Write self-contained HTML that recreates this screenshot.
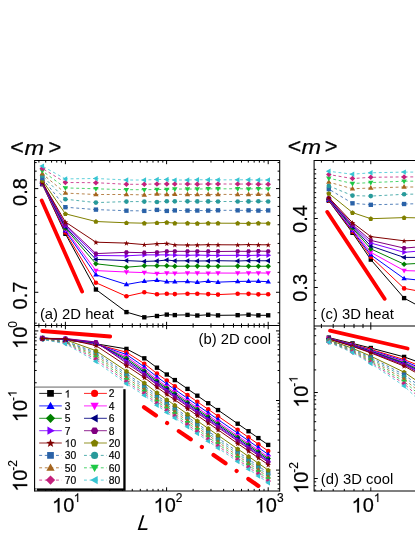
<!DOCTYPE html>
<html><head><meta charset="utf-8"><title>m vs L</title>
<style>
html,body{margin:0;padding:0;background:#fff;}
body{width:415px;height:537px;overflow:hidden;font-family:"Liberation Sans",sans-serif;}
svg{display:block;will-change:transform;}
</style></head><body>
<svg width="415" height="537" viewBox="0 0 415 537" font-family="'Liberation Sans', sans-serif">
<rect width="415" height="537" fill="#fff"/>
<defs>
<clipPath id="ca"><rect x="34.6" y="160.5" width="245.1" height="165.0"/></clipPath>
<clipPath id="cb"><rect x="34.6" y="325.5" width="245.1" height="165.5"/></clipPath>
<clipPath id="cc"><rect x="314.1" y="160.5" width="105.9" height="165.0"/></clipPath>
<clipPath id="cd"><rect x="314.1" y="325.5" width="105.9" height="165.5"/></clipPath>
</defs>
<g clip-path="url(#ca)">
<path d="M42.30 184.20 L65.40 233.80 L95.92 289.50 L126.45 312.10 L144.30 317.30 L156.97 316.00 L166.80 314.60 L174.83 315.09 L187.50 314.88 L197.32 315.48 L208.20 314.79 L218.02 315.34 L237.68 315.14 L248.55 314.77 L258.37 315.31 L268.20 315.30" fill="none" stroke="#000000" stroke-width="1.00"/>
<rect x="40.13" y="182.03" width="4.35" height="4.35" fill="#000000"/>
<rect x="63.23" y="231.63" width="4.35" height="4.35" fill="#000000"/>
<rect x="93.75" y="287.33" width="4.35" height="4.35" fill="#000000"/>
<rect x="124.28" y="309.93" width="4.35" height="4.35" fill="#000000"/>
<rect x="142.13" y="315.13" width="4.35" height="4.35" fill="#000000"/>
<rect x="154.80" y="313.83" width="4.35" height="4.35" fill="#000000"/>
<rect x="164.63" y="312.43" width="4.35" height="4.35" fill="#000000"/>
<rect x="172.66" y="312.92" width="4.35" height="4.35" fill="#000000"/>
<rect x="185.33" y="312.71" width="4.35" height="4.35" fill="#000000"/>
<rect x="195.15" y="313.31" width="4.35" height="4.35" fill="#000000"/>
<rect x="206.02" y="312.61" width="4.35" height="4.35" fill="#000000"/>
<rect x="215.85" y="313.17" width="4.35" height="4.35" fill="#000000"/>
<rect x="235.50" y="312.97" width="4.35" height="4.35" fill="#000000"/>
<rect x="246.37" y="312.60" width="4.35" height="4.35" fill="#000000"/>
<rect x="256.20" y="313.14" width="4.35" height="4.35" fill="#000000"/>
<rect x="266.03" y="313.13" width="4.35" height="4.35" fill="#000000"/>
<path d="M42.30 184.00 L65.40 232.50 L95.92 282.70 L126.45 296.30 L144.30 292.30 L156.97 294.20 L166.80 293.80 L174.83 294.12 L187.50 293.68 L197.32 293.71 L208.20 294.11 L218.02 294.59 L237.68 293.75 L248.55 293.87 L258.37 294.35 L268.20 294.20" fill="none" stroke="#ff0000" stroke-width="1.00"/>
<circle cx="42.30" cy="184.00" r="2.29" fill="#ff0000"/>
<circle cx="65.40" cy="232.50" r="2.29" fill="#ff0000"/>
<circle cx="95.92" cy="282.70" r="2.29" fill="#ff0000"/>
<circle cx="126.45" cy="296.30" r="2.29" fill="#ff0000"/>
<circle cx="144.30" cy="292.30" r="2.29" fill="#ff0000"/>
<circle cx="156.97" cy="294.20" r="2.29" fill="#ff0000"/>
<circle cx="166.80" cy="293.80" r="2.29" fill="#ff0000"/>
<circle cx="174.83" cy="294.12" r="2.29" fill="#ff0000"/>
<circle cx="187.50" cy="293.68" r="2.29" fill="#ff0000"/>
<circle cx="197.32" cy="293.71" r="2.29" fill="#ff0000"/>
<circle cx="208.20" cy="294.11" r="2.29" fill="#ff0000"/>
<circle cx="218.02" cy="294.59" r="2.29" fill="#ff0000"/>
<circle cx="237.68" cy="293.75" r="2.29" fill="#ff0000"/>
<circle cx="248.55" cy="293.87" r="2.29" fill="#ff0000"/>
<circle cx="258.37" cy="294.35" r="2.29" fill="#ff0000"/>
<circle cx="268.20" cy="294.20" r="2.29" fill="#ff0000"/>
<path d="M42.30 183.80 L65.40 230.80 L95.92 274.80 L126.45 284.50 L144.30 281.30 L156.97 280.30 L166.80 281.70 L174.83 281.79 L187.50 281.58 L197.32 282.27 L208.20 281.16 L218.02 282.13 L237.68 281.45 L248.55 281.27 L258.37 281.24 L268.20 281.70" fill="none" stroke="#0000ff" stroke-width="1.00"/>
<polygon points="42.30,180.83 44.99,185.57 39.61,185.57" fill="#0000ff"/>
<polygon points="65.40,227.83 68.09,232.57 62.71,232.57" fill="#0000ff"/>
<polygon points="95.92,271.83 98.61,276.57 93.24,276.57" fill="#0000ff"/>
<polygon points="126.45,281.53 129.13,286.27 123.76,286.27" fill="#0000ff"/>
<polygon points="144.30,278.33 146.99,283.07 141.62,283.07" fill="#0000ff"/>
<polygon points="156.97,277.33 159.66,282.07 154.29,282.07" fill="#0000ff"/>
<polygon points="166.80,278.73 169.49,283.47 164.11,283.47" fill="#0000ff"/>
<polygon points="174.83,278.82 177.51,283.56 172.14,283.56" fill="#0000ff"/>
<polygon points="187.50,278.61 190.18,283.35 184.81,283.35" fill="#0000ff"/>
<polygon points="197.32,279.30 200.01,284.04 194.64,284.04" fill="#0000ff"/>
<polygon points="208.20,278.19 210.88,282.93 205.51,282.93" fill="#0000ff"/>
<polygon points="218.02,279.16 220.71,283.90 215.34,283.90" fill="#0000ff"/>
<polygon points="237.68,278.48 240.36,283.22 234.99,283.22" fill="#0000ff"/>
<polygon points="248.55,278.30 251.23,283.04 245.86,283.04" fill="#0000ff"/>
<polygon points="258.37,278.27 261.06,283.01 255.69,283.01" fill="#0000ff"/>
<polygon points="268.20,278.73 270.89,283.47 265.51,283.47" fill="#0000ff"/>
<path d="M42.30 183.50 L65.40 229.50 L95.92 270.60 L126.45 272.00 L144.30 272.60 L156.97 273.60 L166.80 273.00 L174.83 273.24 L187.50 272.96 L197.32 273.14 L208.20 273.16 L218.02 273.04 L237.68 273.12 L248.55 272.91 L258.37 272.91 L268.20 273.10" fill="none" stroke="#ff00ff" stroke-width="1.00"/>
<polygon points="42.30,186.47 44.99,181.73 39.61,181.73" fill="#ff00ff"/>
<polygon points="65.40,232.47 68.09,227.73 62.71,227.73" fill="#ff00ff"/>
<polygon points="95.92,273.57 98.61,268.83 93.24,268.83" fill="#ff00ff"/>
<polygon points="126.45,274.97 129.13,270.23 123.76,270.23" fill="#ff00ff"/>
<polygon points="144.30,275.57 146.99,270.83 141.62,270.83" fill="#ff00ff"/>
<polygon points="156.97,276.57 159.66,271.83 154.29,271.83" fill="#ff00ff"/>
<polygon points="166.80,275.97 169.49,271.23 164.11,271.23" fill="#ff00ff"/>
<polygon points="174.83,276.21 177.51,271.47 172.14,271.47" fill="#ff00ff"/>
<polygon points="187.50,275.93 190.18,271.19 184.81,271.19" fill="#ff00ff"/>
<polygon points="197.32,276.11 200.01,271.37 194.64,271.37" fill="#ff00ff"/>
<polygon points="208.20,276.13 210.88,271.39 205.51,271.39" fill="#ff00ff"/>
<polygon points="218.02,276.01 220.71,271.27 215.34,271.27" fill="#ff00ff"/>
<polygon points="237.68,276.09 240.36,271.35 234.99,271.35" fill="#ff00ff"/>
<polygon points="248.55,275.88 251.23,271.14 245.86,271.14" fill="#ff00ff"/>
<polygon points="258.37,275.88 261.06,271.14 255.69,271.14" fill="#ff00ff"/>
<polygon points="268.20,276.07 270.89,271.33 265.51,271.33" fill="#ff00ff"/>
<path d="M42.30 183.20 L65.40 228.20 L95.92 263.80 L126.45 267.20 L144.30 265.80 L156.97 265.80 L166.80 265.80 L174.83 266.28 L187.50 266.17 L197.32 266.12 L208.20 266.24 L218.02 266.18 L237.68 266.11 L248.55 266.33 L258.37 266.29 L268.20 266.20" fill="none" stroke="#008000" stroke-width="1.00"/>
<polygon points="42.30,180.44 45.06,183.20 42.30,185.96 39.53,183.20" fill="#008000"/>
<polygon points="65.40,225.44 68.17,228.20 65.40,230.96 62.64,228.20" fill="#008000"/>
<polygon points="95.92,261.04 98.69,263.80 95.92,266.56 93.16,263.80" fill="#008000"/>
<polygon points="126.45,264.44 129.21,267.20 126.45,269.96 123.68,267.20" fill="#008000"/>
<polygon points="144.30,263.04 147.07,265.80 144.30,268.56 141.54,265.80" fill="#008000"/>
<polygon points="156.97,263.04 159.74,265.80 156.97,268.56 154.21,265.80" fill="#008000"/>
<polygon points="166.80,263.04 169.56,265.80 166.80,268.56 164.04,265.80" fill="#008000"/>
<polygon points="174.83,263.51 177.59,266.28 174.83,269.04 172.06,266.28" fill="#008000"/>
<polygon points="187.50,263.40 190.26,266.17 187.50,268.93 184.73,266.17" fill="#008000"/>
<polygon points="197.32,263.35 200.09,266.12 197.32,268.88 194.56,266.12" fill="#008000"/>
<polygon points="208.20,263.47 210.96,266.24 208.20,269.00 205.43,266.24" fill="#008000"/>
<polygon points="218.02,263.41 220.79,266.18 218.02,268.94 215.26,266.18" fill="#008000"/>
<polygon points="237.68,263.35 240.44,266.11 237.68,268.88 234.91,266.11" fill="#008000"/>
<polygon points="248.55,263.56 251.31,266.33 248.55,269.09 245.78,266.33" fill="#008000"/>
<polygon points="258.37,263.52 261.14,266.29 258.37,269.05 255.61,266.29" fill="#008000"/>
<polygon points="268.20,263.44 270.97,266.20 268.20,268.96 265.44,266.20" fill="#008000"/>
<path d="M42.30 182.90 L65.40 227.00 L95.92 259.40 L126.45 260.60 L144.30 261.40 L156.97 261.00 L166.80 260.00 L174.83 260.83 L187.50 260.81 L197.32 260.97 L208.20 260.90 L218.02 260.71 L237.68 261.01 L248.55 260.63 L258.37 260.76 L268.20 260.80" fill="none" stroke="#000080" stroke-width="1.00"/>
<polygon points="39.33,182.90 44.07,180.21 44.07,185.59" fill="#000080"/>
<polygon points="62.43,227.00 67.17,224.31 67.17,229.69" fill="#000080"/>
<polygon points="92.95,259.40 97.69,256.71 97.69,262.09" fill="#000080"/>
<polygon points="123.48,260.60 128.22,257.91 128.22,263.29" fill="#000080"/>
<polygon points="141.33,261.40 146.07,258.71 146.07,264.09" fill="#000080"/>
<polygon points="154.00,261.00 158.74,258.31 158.74,263.69" fill="#000080"/>
<polygon points="163.83,260.00 168.57,257.31 168.57,262.69" fill="#000080"/>
<polygon points="171.86,260.83 176.60,258.15 176.60,263.52" fill="#000080"/>
<polygon points="184.53,260.81 189.27,258.13 189.27,263.50" fill="#000080"/>
<polygon points="194.35,260.97 199.09,258.28 199.09,263.65" fill="#000080"/>
<polygon points="205.23,260.90 209.97,258.21 209.97,263.59" fill="#000080"/>
<polygon points="215.05,260.71 219.79,258.02 219.79,263.39" fill="#000080"/>
<polygon points="234.71,261.01 239.45,258.33 239.45,263.70" fill="#000080"/>
<polygon points="245.58,260.63 250.32,257.95 250.32,263.32" fill="#000080"/>
<polygon points="255.40,260.76 260.14,258.08 260.14,263.45" fill="#000080"/>
<polygon points="265.23,260.80 269.97,258.11 269.97,263.49" fill="#000080"/>
<path d="M42.30 182.50 L65.40 225.80 L95.92 255.50 L126.45 255.80 L144.30 254.90 L156.97 254.90 L166.80 254.90 L174.83 255.15 L187.50 255.30 L197.32 255.10 L208.20 255.37 L218.02 255.42 L237.68 255.33 L248.55 255.47 L258.37 255.22 L268.20 255.30" fill="none" stroke="#8000ff" stroke-width="1.00"/>
<polygon points="45.27,182.50 40.53,179.81 40.53,185.19" fill="#8000ff"/>
<polygon points="68.37,225.80 63.63,223.11 63.63,228.49" fill="#8000ff"/>
<polygon points="98.89,255.50 94.15,252.81 94.15,258.19" fill="#8000ff"/>
<polygon points="129.42,255.80 124.68,253.11 124.68,258.49" fill="#8000ff"/>
<polygon points="147.27,254.90 142.53,252.21 142.53,257.59" fill="#8000ff"/>
<polygon points="159.94,254.90 155.20,252.21 155.20,257.59" fill="#8000ff"/>
<polygon points="169.77,254.90 165.03,252.21 165.03,257.59" fill="#8000ff"/>
<polygon points="177.80,255.15 173.06,252.46 173.06,257.83" fill="#8000ff"/>
<polygon points="190.47,255.30 185.73,252.61 185.73,257.98" fill="#8000ff"/>
<polygon points="200.29,255.10 195.55,252.41 195.55,257.78" fill="#8000ff"/>
<polygon points="211.17,255.37 206.43,252.69 206.43,258.06" fill="#8000ff"/>
<polygon points="220.99,255.42 216.25,252.73 216.25,258.10" fill="#8000ff"/>
<polygon points="240.65,255.33 235.91,252.65 235.91,258.02" fill="#8000ff"/>
<polygon points="251.52,255.47 246.78,252.78 246.78,258.15" fill="#8000ff"/>
<polygon points="261.34,255.22 256.60,252.53 256.60,257.90" fill="#8000ff"/>
<polygon points="271.17,255.30 266.43,252.61 266.43,257.99" fill="#8000ff"/>
<path d="M42.30 182.20 L65.40 224.50 L95.92 253.60 L126.45 252.30 L144.30 252.70 L156.97 252.30 L166.80 251.40 L174.83 251.34 L187.50 251.34 L197.32 251.28 L208.20 251.45 L218.02 251.50 L237.68 251.29 L248.55 251.37 L258.37 251.11 L268.20 251.30" fill="none" stroke="#800080" stroke-width="1.00"/>
<polygon points="44.75,182.20 43.52,184.32 41.08,184.32 39.85,182.20 41.08,180.08 43.52,180.08" fill="#800080"/>
<polygon points="67.85,224.50 66.62,226.62 64.18,226.62 62.95,224.50 64.18,222.38 66.62,222.38" fill="#800080"/>
<polygon points="98.37,253.60 97.15,255.72 94.70,255.72 93.48,253.60 94.70,251.48 97.15,251.48" fill="#800080"/>
<polygon points="128.90,252.30 127.67,254.42 125.22,254.42 124.00,252.30 125.22,250.18 127.67,250.18" fill="#800080"/>
<polygon points="146.75,252.70 145.53,254.82 143.08,254.82 141.86,252.70 143.08,250.58 145.53,250.58" fill="#800080"/>
<polygon points="159.42,252.30 158.20,254.42 155.75,254.42 154.52,252.30 155.75,250.18 158.20,250.18" fill="#800080"/>
<polygon points="169.25,251.40 168.02,253.52 165.58,253.52 164.35,251.40 165.58,249.28 168.02,249.28" fill="#800080"/>
<polygon points="177.28,251.34 176.05,253.46 173.60,253.46 172.38,251.34 173.60,249.22 176.05,249.22" fill="#800080"/>
<polygon points="189.95,251.34 188.72,253.46 186.27,253.46 185.05,251.34 186.27,249.21 188.72,249.21" fill="#800080"/>
<polygon points="199.77,251.28 198.55,253.40 196.10,253.40 194.88,251.28 196.10,249.16 198.55,249.16" fill="#800080"/>
<polygon points="210.64,251.45 209.42,253.57 206.97,253.57 205.75,251.45 206.97,249.33 209.42,249.33" fill="#800080"/>
<polygon points="220.47,251.50 219.25,253.62 216.80,253.62 215.57,251.50 216.80,249.37 219.25,249.37" fill="#800080"/>
<polygon points="240.12,251.29 238.90,253.41 236.45,253.41 235.23,251.29 236.45,249.17 238.90,249.17" fill="#800080"/>
<polygon points="251.00,251.37 249.77,253.49 247.32,253.49 246.10,251.37 247.32,249.25 249.77,249.25" fill="#800080"/>
<polygon points="260.82,251.11 259.60,253.23 257.15,253.23 255.92,251.11 257.15,248.99 259.60,248.99" fill="#800080"/>
<polygon points="270.65,251.30 269.42,253.42 266.98,253.42 265.75,251.30 266.98,249.18 269.42,249.18" fill="#800080"/>
<path d="M42.30 182.30 L65.40 222.00 L95.92 242.20 L126.45 243.10 L144.30 244.60 L156.97 243.70 L166.80 243.40 L174.83 244.86 L187.50 245.02 L197.32 244.94 L208.20 244.71 L218.02 244.75 L237.68 244.87 L248.55 244.59 L258.37 244.78 L268.20 244.80" fill="none" stroke="#800000" stroke-width="1.00"/>
<polygon points="42.30,179.64 43.00,181.64 45.12,181.68 43.43,182.97 44.04,185.00 42.30,183.79 40.56,185.00 41.17,182.97 39.48,181.68 41.60,181.64" fill="#800000"/>
<polygon points="65.40,219.34 66.10,221.34 68.22,221.38 66.53,222.67 67.14,224.70 65.40,223.49 63.66,224.70 64.27,222.67 62.58,221.38 64.70,221.34" fill="#800000"/>
<polygon points="95.92,239.54 96.62,241.54 98.74,241.58 97.05,242.87 97.67,244.90 95.92,243.69 94.18,244.90 94.80,242.87 93.11,241.58 95.23,241.54" fill="#800000"/>
<polygon points="126.45,240.44 127.15,242.44 129.27,242.48 127.58,243.77 128.19,245.80 126.45,244.59 124.71,245.80 125.32,243.77 123.63,242.48 125.75,242.44" fill="#800000"/>
<polygon points="144.30,241.94 145.00,243.94 147.12,243.98 145.43,245.27 146.05,247.30 144.30,246.09 142.56,247.30 143.18,245.27 141.49,243.98 143.61,243.94" fill="#800000"/>
<polygon points="156.97,241.04 157.67,243.04 159.79,243.08 158.10,244.37 158.71,246.40 156.97,245.19 155.23,246.40 155.85,244.37 154.16,243.08 156.28,243.04" fill="#800000"/>
<polygon points="166.80,240.74 167.50,242.74 169.62,242.78 167.93,244.07 168.54,246.10 166.80,244.89 165.06,246.10 165.67,244.07 163.98,242.78 166.10,242.74" fill="#800000"/>
<polygon points="174.83,242.20 175.53,244.21 177.65,244.25 175.96,245.53 176.57,247.56 174.83,246.35 173.09,247.56 173.70,245.53 172.01,244.25 174.13,244.21" fill="#800000"/>
<polygon points="187.50,242.35 188.19,244.36 190.32,244.40 188.62,245.68 189.24,247.71 187.50,246.50 185.76,247.71 186.37,245.68 184.68,244.40 186.80,244.36" fill="#800000"/>
<polygon points="197.32,242.28 198.02,244.28 200.14,244.33 198.45,245.61 199.07,247.64 197.32,246.43 195.58,247.64 196.20,245.61 194.51,244.33 196.63,244.28" fill="#800000"/>
<polygon points="208.20,242.04 208.89,244.05 211.01,244.09 209.32,245.37 209.94,247.40 208.20,246.19 206.45,247.40 207.07,245.37 205.38,244.09 207.50,244.05" fill="#800000"/>
<polygon points="218.02,242.09 218.72,244.09 220.84,244.13 219.15,245.42 219.76,247.45 218.02,246.23 216.28,247.45 216.90,245.42 215.20,244.13 217.33,244.09" fill="#800000"/>
<polygon points="237.68,242.21 238.37,244.22 240.49,244.26 238.80,245.54 239.42,247.57 237.68,246.36 235.93,247.57 236.55,245.54 234.86,244.26 236.98,244.22" fill="#800000"/>
<polygon points="248.55,241.93 249.24,243.93 251.36,243.97 249.67,245.26 250.29,247.29 248.55,246.07 246.81,247.29 247.42,245.26 245.73,243.97 247.85,243.93" fill="#800000"/>
<polygon points="258.37,242.12 259.07,244.12 261.19,244.17 259.50,245.45 260.11,247.48 258.37,246.27 256.63,247.48 257.25,245.45 255.56,244.17 257.68,244.12" fill="#800000"/>
<polygon points="268.20,242.14 268.90,244.14 271.02,244.18 269.33,245.47 269.94,247.50 268.20,246.29 266.46,247.50 267.07,245.47 265.38,244.18 267.50,244.14" fill="#800000"/>
<path d="M42.30 180.40 L65.40 213.80 L95.92 221.50 L126.45 222.80 L144.30 223.20 L156.97 222.80 L166.80 222.40 L174.83 223.13 L187.50 223.11 L197.32 223.42 L208.20 223.14 L218.02 223.19 L237.68 223.25 L248.55 223.46 L258.37 223.12 L268.20 223.30" fill="none" stroke="#808000" stroke-width="1.00"/>
<polygon points="42.30,177.99 44.78,179.79 43.83,182.71 40.77,182.71 39.82,179.79" fill="#808000"/>
<polygon points="65.40,211.39 67.88,213.19 66.93,216.11 63.87,216.11 62.92,213.19" fill="#808000"/>
<polygon points="95.92,219.09 98.40,220.89 97.46,223.81 94.39,223.81 93.45,220.89" fill="#808000"/>
<polygon points="126.45,220.39 128.93,222.19 127.98,225.11 124.92,225.11 123.97,222.19" fill="#808000"/>
<polygon points="144.30,220.79 146.78,222.59 145.84,225.51 142.77,225.51 141.83,222.59" fill="#808000"/>
<polygon points="156.97,220.39 159.45,222.19 158.51,225.11 155.44,225.11 154.49,222.19" fill="#808000"/>
<polygon points="166.80,219.99 169.28,221.79 168.33,224.71 165.27,224.71 164.32,221.79" fill="#808000"/>
<polygon points="174.83,220.72 177.31,222.53 176.36,225.44 173.30,225.44 172.35,222.53" fill="#808000"/>
<polygon points="187.50,220.70 189.98,222.50 189.03,225.42 185.97,225.42 185.02,222.50" fill="#808000"/>
<polygon points="197.32,221.01 199.80,222.81 198.86,225.73 195.79,225.73 194.85,222.81" fill="#808000"/>
<polygon points="208.20,220.73 210.67,222.53 209.73,225.45 206.66,225.45 205.72,222.53" fill="#808000"/>
<polygon points="218.02,220.78 220.50,222.58 219.55,225.50 216.49,225.50 215.54,222.58" fill="#808000"/>
<polygon points="237.68,220.85 240.15,222.65 239.21,225.56 236.14,225.56 235.20,222.65" fill="#808000"/>
<polygon points="248.55,221.06 251.03,222.86 250.08,225.77 247.01,225.77 246.07,222.86" fill="#808000"/>
<polygon points="258.37,220.71 260.85,222.51 259.91,225.42 256.84,225.42 255.89,222.51" fill="#808000"/>
<polygon points="268.20,220.89 270.68,222.69 269.73,225.61 266.67,225.61 265.72,222.69" fill="#808000"/>
<path d="M65.40 207.20 L42.30 178.20M95.92 209.60 L65.40 207.20M126.45 210.70 L95.92 209.60M144.30 210.90 L126.45 210.70M156.97 209.90 L144.30 210.90M166.80 210.90 L156.97 209.90M174.83 210.42 L166.80 210.90M187.50 210.57 L174.83 210.42M197.32 210.54 L187.50 210.57M208.20 210.56 L197.32 210.54M218.02 210.30 L208.20 210.56M237.68 210.36 L218.02 210.30M248.55 210.34 L237.68 210.36M258.37 210.57 L248.55 210.34M268.20 210.40 L258.37 210.57" fill="none" stroke="#2a62a8" stroke-width="0.80" stroke-dasharray="2.9 2.7"/>
<rect x="40.13" y="176.03" width="4.35" height="4.35" fill="#2a62a8"/>
<rect x="63.23" y="205.03" width="4.35" height="4.35" fill="#2a62a8"/>
<rect x="93.75" y="207.43" width="4.35" height="4.35" fill="#2a62a8"/>
<rect x="124.28" y="208.53" width="4.35" height="4.35" fill="#2a62a8"/>
<rect x="142.13" y="208.73" width="4.35" height="4.35" fill="#2a62a8"/>
<rect x="154.80" y="207.73" width="4.35" height="4.35" fill="#2a62a8"/>
<rect x="164.63" y="208.73" width="4.35" height="4.35" fill="#2a62a8"/>
<rect x="172.66" y="208.25" width="4.35" height="4.35" fill="#2a62a8"/>
<rect x="185.33" y="208.40" width="4.35" height="4.35" fill="#2a62a8"/>
<rect x="195.15" y="208.37" width="4.35" height="4.35" fill="#2a62a8"/>
<rect x="206.02" y="208.39" width="4.35" height="4.35" fill="#2a62a8"/>
<rect x="215.85" y="208.13" width="4.35" height="4.35" fill="#2a62a8"/>
<rect x="235.50" y="208.19" width="4.35" height="4.35" fill="#2a62a8"/>
<rect x="246.37" y="208.17" width="4.35" height="4.35" fill="#2a62a8"/>
<rect x="256.20" y="208.40" width="4.35" height="4.35" fill="#2a62a8"/>
<rect x="266.03" y="208.23" width="4.35" height="4.35" fill="#2a62a8"/>
<path d="M65.40 199.20 L42.30 175.70M95.92 202.60 L65.40 199.20M126.45 201.60 L95.92 202.60M144.30 201.60 L126.45 201.60M156.97 202.00 L144.30 201.60M166.80 201.20 L156.97 202.00M174.83 201.35 L166.80 201.20M187.50 201.36 L174.83 201.35M197.32 201.38 L187.50 201.36M208.20 201.38 L197.32 201.38M218.02 201.49 L208.20 201.38M237.68 201.54 L218.02 201.49M248.55 201.40 L237.68 201.54M258.37 201.28 L248.55 201.40M268.20 201.50 L258.37 201.28" fill="none" stroke="#289a9a" stroke-width="0.80" stroke-dasharray="2.9 2.7"/>
<circle cx="42.30" cy="175.70" r="2.29" fill="#289a9a"/>
<circle cx="65.40" cy="199.20" r="2.29" fill="#289a9a"/>
<circle cx="95.92" cy="202.60" r="2.29" fill="#289a9a"/>
<circle cx="126.45" cy="201.60" r="2.29" fill="#289a9a"/>
<circle cx="144.30" cy="201.60" r="2.29" fill="#289a9a"/>
<circle cx="156.97" cy="202.00" r="2.29" fill="#289a9a"/>
<circle cx="166.80" cy="201.20" r="2.29" fill="#289a9a"/>
<circle cx="174.83" cy="201.35" r="2.29" fill="#289a9a"/>
<circle cx="187.50" cy="201.36" r="2.29" fill="#289a9a"/>
<circle cx="197.32" cy="201.38" r="2.29" fill="#289a9a"/>
<circle cx="208.20" cy="201.38" r="2.29" fill="#289a9a"/>
<circle cx="218.02" cy="201.49" r="2.29" fill="#289a9a"/>
<circle cx="237.68" cy="201.54" r="2.29" fill="#289a9a"/>
<circle cx="248.55" cy="201.40" r="2.29" fill="#289a9a"/>
<circle cx="258.37" cy="201.28" r="2.29" fill="#289a9a"/>
<circle cx="268.20" cy="201.50" r="2.29" fill="#289a9a"/>
<path d="M65.40 193.10 L42.30 173.80M95.92 194.50 L65.40 193.10M126.45 194.50 L95.92 194.50M144.30 194.90 L126.45 194.50M156.97 193.90 L144.30 194.90M166.80 194.50 L156.97 193.90M174.83 194.34 L166.80 194.50M187.50 194.43 L174.83 194.34M197.32 194.60 L187.50 194.43M208.20 194.48 L197.32 194.60M218.02 194.41 L208.20 194.48M237.68 194.45 L218.02 194.41M248.55 194.48 L237.68 194.45M258.37 194.20 L248.55 194.48M268.20 194.40 L258.37 194.20" fill="none" stroke="#a5651e" stroke-width="0.80" stroke-dasharray="2.9 2.7"/>
<polygon points="42.30,170.83 44.99,175.57 39.61,175.57" fill="#a5651e"/>
<polygon points="65.40,190.13 68.09,194.87 62.71,194.87" fill="#a5651e"/>
<polygon points="95.92,191.53 98.61,196.27 93.24,196.27" fill="#a5651e"/>
<polygon points="126.45,191.53 129.13,196.27 123.76,196.27" fill="#a5651e"/>
<polygon points="144.30,191.93 146.99,196.67 141.62,196.67" fill="#a5651e"/>
<polygon points="156.97,190.93 159.66,195.67 154.29,195.67" fill="#a5651e"/>
<polygon points="166.80,191.53 169.49,196.27 164.11,196.27" fill="#a5651e"/>
<polygon points="174.83,191.37 177.51,196.11 172.14,196.11" fill="#a5651e"/>
<polygon points="187.50,191.46 190.18,196.20 184.81,196.20" fill="#a5651e"/>
<polygon points="197.32,191.63 200.01,196.37 194.64,196.37" fill="#a5651e"/>
<polygon points="208.20,191.51 210.88,196.25 205.51,196.25" fill="#a5651e"/>
<polygon points="218.02,191.44 220.71,196.18 215.34,196.18" fill="#a5651e"/>
<polygon points="237.68,191.48 240.36,196.22 234.99,196.22" fill="#a5651e"/>
<polygon points="248.55,191.51 251.23,196.25 245.86,196.25" fill="#a5651e"/>
<polygon points="258.37,191.23 261.06,195.97 255.69,195.97" fill="#a5651e"/>
<polygon points="268.20,191.43 270.89,196.17 265.51,196.17" fill="#a5651e"/>
<path d="M65.40 187.90 L42.30 170.90M95.92 188.80 L65.40 187.90M126.45 189.70 L95.92 188.80M144.30 189.70 L126.45 189.70M156.97 189.50 L144.30 189.70M166.80 189.50 L156.97 189.50M174.83 189.02 L166.80 189.50M187.50 189.06 L174.83 189.02M197.32 189.03 L187.50 189.06M208.20 188.85 L197.32 189.03M218.02 188.86 L208.20 188.85M237.68 188.73 L218.02 188.86M248.55 188.96 L237.68 188.73M258.37 188.71 L248.55 188.96M268.20 188.90 L258.37 188.71" fill="none" stroke="#1ec846" stroke-width="0.80" stroke-dasharray="2.9 2.7"/>
<polygon points="42.30,173.87 44.99,169.13 39.61,169.13" fill="#1ec846"/>
<polygon points="65.40,190.87 68.09,186.13 62.71,186.13" fill="#1ec846"/>
<polygon points="95.92,191.77 98.61,187.03 93.24,187.03" fill="#1ec846"/>
<polygon points="126.45,192.67 129.13,187.93 123.76,187.93" fill="#1ec846"/>
<polygon points="144.30,192.67 146.99,187.93 141.62,187.93" fill="#1ec846"/>
<polygon points="156.97,192.47 159.66,187.73 154.29,187.73" fill="#1ec846"/>
<polygon points="166.80,192.47 169.49,187.73 164.11,187.73" fill="#1ec846"/>
<polygon points="174.83,191.99 177.51,187.25 172.14,187.25" fill="#1ec846"/>
<polygon points="187.50,192.03 190.18,187.29 184.81,187.29" fill="#1ec846"/>
<polygon points="197.32,192.00 200.01,187.26 194.64,187.26" fill="#1ec846"/>
<polygon points="208.20,191.82 210.88,187.08 205.51,187.08" fill="#1ec846"/>
<polygon points="218.02,191.83 220.71,187.09 215.34,187.09" fill="#1ec846"/>
<polygon points="237.68,191.70 240.36,186.96 234.99,186.96" fill="#1ec846"/>
<polygon points="248.55,191.93 251.23,187.19 245.86,187.19" fill="#1ec846"/>
<polygon points="258.37,191.68 261.06,186.94 255.69,186.94" fill="#1ec846"/>
<polygon points="268.20,191.87 270.89,187.13 265.51,187.13" fill="#1ec846"/>
<path d="M65.40 182.50 L42.30 168.40M95.92 182.70 L65.40 182.50M126.45 184.30 L95.92 182.70M144.30 184.30 L126.45 184.30M156.97 183.90 L144.30 184.30M166.80 183.90 L156.97 183.90M174.83 184.07 L166.80 183.90M187.50 184.05 L174.83 184.07M197.32 184.13 L187.50 184.05M208.20 184.00 L197.32 184.13M218.02 183.98 L208.20 184.00M237.68 184.05 L218.02 183.98M248.55 184.02 L237.68 184.05M258.37 184.14 L248.55 184.02M268.20 184.20 L258.37 184.14" fill="none" stroke="#c4207c" stroke-width="0.80" stroke-dasharray="2.9 2.7"/>
<polygon points="42.30,165.64 45.06,168.40 42.30,171.16 39.53,168.40" fill="#c4207c"/>
<polygon points="65.40,179.74 68.17,182.50 65.40,185.26 62.64,182.50" fill="#c4207c"/>
<polygon points="95.92,179.94 98.69,182.70 95.92,185.46 93.16,182.70" fill="#c4207c"/>
<polygon points="126.45,181.54 129.21,184.30 126.45,187.06 123.68,184.30" fill="#c4207c"/>
<polygon points="144.30,181.54 147.07,184.30 144.30,187.06 141.54,184.30" fill="#c4207c"/>
<polygon points="156.97,181.14 159.74,183.90 156.97,186.66 154.21,183.90" fill="#c4207c"/>
<polygon points="166.80,181.14 169.56,183.90 166.80,186.66 164.04,183.90" fill="#c4207c"/>
<polygon points="174.83,181.31 177.59,184.07 174.83,186.84 172.06,184.07" fill="#c4207c"/>
<polygon points="187.50,181.29 190.26,184.05 187.50,186.82 184.73,184.05" fill="#c4207c"/>
<polygon points="197.32,181.36 200.09,184.13 197.32,186.89 194.56,184.13" fill="#c4207c"/>
<polygon points="208.20,181.24 210.96,184.00 208.20,186.77 205.43,184.00" fill="#c4207c"/>
<polygon points="218.02,181.22 220.79,183.98 218.02,186.75 215.26,183.98" fill="#c4207c"/>
<polygon points="237.68,181.28 240.44,184.05 237.68,186.81 234.91,184.05" fill="#c4207c"/>
<polygon points="248.55,181.26 251.31,184.02 248.55,186.79 245.78,184.02" fill="#c4207c"/>
<polygon points="258.37,181.37 261.14,184.14 258.37,186.90 255.61,184.14" fill="#c4207c"/>
<polygon points="268.20,181.44 270.97,184.20 268.20,186.96 265.44,184.20" fill="#c4207c"/>
<path d="M65.40 178.90 L42.30 166.10M95.92 178.50 L65.40 178.90M126.45 180.00 L95.92 178.50M144.30 180.00 L126.45 180.00M156.97 179.50 L144.30 180.00M166.80 179.50 L156.97 179.50M174.83 180.06 L166.80 179.50M187.50 179.95 L174.83 180.06M197.32 179.75 L187.50 179.95M208.20 179.79 L197.32 179.75M218.02 179.83 L208.20 179.79M237.68 179.84 L218.02 179.83M248.55 179.73 L237.68 179.84M258.37 180.05 L248.55 179.73M268.20 179.90 L258.37 180.05" fill="none" stroke="#38c4d2" stroke-width="0.80" stroke-dasharray="2.9 2.7"/>
<polygon points="39.33,166.10 44.07,163.41 44.07,168.79" fill="#38c4d2"/>
<polygon points="62.43,178.90 67.17,176.21 67.17,181.59" fill="#38c4d2"/>
<polygon points="92.95,178.50 97.69,175.81 97.69,181.19" fill="#38c4d2"/>
<polygon points="123.48,180.00 128.22,177.31 128.22,182.69" fill="#38c4d2"/>
<polygon points="141.33,180.00 146.07,177.31 146.07,182.69" fill="#38c4d2"/>
<polygon points="154.00,179.50 158.74,176.81 158.74,182.19" fill="#38c4d2"/>
<polygon points="163.83,179.50 168.57,176.81 168.57,182.19" fill="#38c4d2"/>
<polygon points="171.86,180.06 176.60,177.38 176.60,182.75" fill="#38c4d2"/>
<polygon points="184.53,179.95 189.27,177.26 189.27,182.64" fill="#38c4d2"/>
<polygon points="194.35,179.75 199.09,177.06 199.09,182.43" fill="#38c4d2"/>
<polygon points="205.23,179.79 209.97,177.10 209.97,182.48" fill="#38c4d2"/>
<polygon points="215.05,179.83 219.79,177.15 219.79,182.52" fill="#38c4d2"/>
<polygon points="234.71,179.84 239.45,177.15 239.45,182.53" fill="#38c4d2"/>
<polygon points="245.58,179.73 250.32,177.05 250.32,182.42" fill="#38c4d2"/>
<polygon points="255.40,180.05 260.14,177.37 260.14,182.74" fill="#38c4d2"/>
<polygon points="265.23,179.90 269.97,177.21 269.97,182.59" fill="#38c4d2"/>
<line x1="41.7" y1="200.5" x2="82.1" y2="291.6" stroke="#ff0000" stroke-width="3.8" stroke-linecap="round"/>
</g>
<g clip-path="url(#cb)">
<path d="M65.40 341.25 L42.30 338.73M95.92 352.24 L65.40 341.25M126.45 373.83 L95.92 352.24M144.30 385.72 L126.45 373.83M156.97 395.51 L144.30 385.72M166.80 402.50 L156.97 395.51M174.83 408.07 L166.80 402.50M187.50 416.87 L174.83 408.07M197.32 423.69 L187.50 416.87M208.20 431.24 L197.32 423.69M218.02 438.06 L208.20 431.24M237.68 451.71 L218.02 438.06M248.55 459.26 L237.68 451.71M258.37 466.08 L248.55 459.26M268.20 472.90 L258.37 466.08" fill="none" stroke="#2a62a8" stroke-width="0.80" stroke-dasharray="2.9 2.7"/>
<rect x="40.13" y="336.56" width="4.35" height="4.35" fill="#2a62a8"/>
<rect x="63.23" y="339.08" width="4.35" height="4.35" fill="#2a62a8"/>
<rect x="93.75" y="350.06" width="4.35" height="4.35" fill="#2a62a8"/>
<rect x="124.28" y="371.66" width="4.35" height="4.35" fill="#2a62a8"/>
<rect x="142.13" y="383.55" width="4.35" height="4.35" fill="#2a62a8"/>
<rect x="154.80" y="393.34" width="4.35" height="4.35" fill="#2a62a8"/>
<rect x="164.63" y="400.33" width="4.35" height="4.35" fill="#2a62a8"/>
<rect x="172.66" y="405.90" width="4.35" height="4.35" fill="#2a62a8"/>
<rect x="185.33" y="414.70" width="4.35" height="4.35" fill="#2a62a8"/>
<rect x="195.15" y="421.52" width="4.35" height="4.35" fill="#2a62a8"/>
<rect x="206.02" y="429.07" width="4.35" height="4.35" fill="#2a62a8"/>
<rect x="215.85" y="435.89" width="4.35" height="4.35" fill="#2a62a8"/>
<rect x="235.50" y="449.53" width="4.35" height="4.35" fill="#2a62a8"/>
<rect x="246.37" y="457.08" width="4.35" height="4.35" fill="#2a62a8"/>
<rect x="256.20" y="463.91" width="4.35" height="4.35" fill="#2a62a8"/>
<rect x="266.03" y="470.73" width="4.35" height="4.35" fill="#2a62a8"/>
<path d="M65.40 341.59 L42.30 338.84M95.92 353.73 L65.40 341.59M126.45 375.84 L95.92 353.73M144.30 387.68 L126.45 375.84M156.97 397.49 L144.30 387.68M166.80 404.50 L156.97 397.49M174.83 410.07 L166.80 404.50M187.50 418.87 L174.83 410.07M197.32 425.69 L187.50 418.87M208.20 433.24 L197.32 425.69M218.02 440.06 L208.20 433.24M237.68 453.71 L218.02 440.06M248.55 461.26 L237.68 453.71M258.37 468.08 L248.55 461.26M268.20 474.90 L258.37 468.08" fill="none" stroke="#289a9a" stroke-width="0.80" stroke-dasharray="2.9 2.7"/>
<circle cx="42.30" cy="338.84" r="2.29" fill="#289a9a"/>
<circle cx="65.40" cy="341.59" r="2.29" fill="#289a9a"/>
<circle cx="95.92" cy="353.73" r="2.29" fill="#289a9a"/>
<circle cx="126.45" cy="375.84" r="2.29" fill="#289a9a"/>
<circle cx="144.30" cy="387.68" r="2.29" fill="#289a9a"/>
<circle cx="156.97" cy="397.49" r="2.29" fill="#289a9a"/>
<circle cx="166.80" cy="404.50" r="2.29" fill="#289a9a"/>
<circle cx="174.83" cy="410.07" r="2.29" fill="#289a9a"/>
<circle cx="187.50" cy="418.87" r="2.29" fill="#289a9a"/>
<circle cx="197.32" cy="425.69" r="2.29" fill="#289a9a"/>
<circle cx="208.20" cy="433.24" r="2.29" fill="#289a9a"/>
<circle cx="218.02" cy="440.06" r="2.29" fill="#289a9a"/>
<circle cx="237.68" cy="453.71" r="2.29" fill="#289a9a"/>
<circle cx="248.55" cy="461.26" r="2.29" fill="#289a9a"/>
<circle cx="258.37" cy="468.08" r="2.29" fill="#289a9a"/>
<circle cx="268.20" cy="474.90" r="2.29" fill="#289a9a"/>
<path d="M65.40 341.99 L42.30 338.97M95.92 355.39 L65.40 341.99M126.45 377.84 L95.92 355.39M144.30 389.65 L126.45 377.84M156.97 399.47 L144.30 389.65M166.80 406.50 L156.97 399.47M174.83 412.07 L166.80 406.50M187.50 420.87 L174.83 412.07M197.32 427.69 L187.50 420.87M208.20 435.24 L197.32 427.69M218.02 442.06 L208.20 435.24M237.68 455.71 L218.02 442.06M248.55 463.26 L237.68 455.71M258.37 470.08 L248.55 463.26M268.20 476.90 L258.37 470.08" fill="none" stroke="#a5651e" stroke-width="0.80" stroke-dasharray="2.9 2.7"/>
<polygon points="42.30,336.00 44.99,340.74 39.61,340.74" fill="#a5651e"/>
<polygon points="65.40,339.02 68.09,343.76 62.71,343.76" fill="#a5651e"/>
<polygon points="95.92,352.42 98.61,357.16 93.24,357.16" fill="#a5651e"/>
<polygon points="126.45,374.87 129.13,379.61 123.76,379.61" fill="#a5651e"/>
<polygon points="144.30,386.68 146.99,391.42 141.62,391.42" fill="#a5651e"/>
<polygon points="156.97,396.50 159.66,401.24 154.29,401.24" fill="#a5651e"/>
<polygon points="166.80,403.53 169.49,408.27 164.11,408.27" fill="#a5651e"/>
<polygon points="174.83,409.10 177.51,413.84 172.14,413.84" fill="#a5651e"/>
<polygon points="187.50,417.90 190.18,422.64 184.81,422.64" fill="#a5651e"/>
<polygon points="197.32,424.72 200.01,429.46 194.64,429.46" fill="#a5651e"/>
<polygon points="208.20,432.27 210.88,437.01 205.51,437.01" fill="#a5651e"/>
<polygon points="218.02,439.09 220.71,443.83 215.34,443.83" fill="#a5651e"/>
<polygon points="237.68,452.74 240.36,457.48 234.99,457.48" fill="#a5651e"/>
<polygon points="248.55,460.29 251.23,465.03 245.86,465.03" fill="#a5651e"/>
<polygon points="258.37,467.11 261.06,471.85 255.69,471.85" fill="#a5651e"/>
<polygon points="268.20,473.93 270.89,478.67 265.51,478.67" fill="#a5651e"/>
<path d="M65.40 342.47 L42.30 339.12M95.92 357.24 L65.40 342.47M126.45 379.84 L95.92 357.24M144.30 391.60 L126.45 379.84M156.97 401.44 L144.30 391.60M166.80 408.50 L156.97 401.44M174.83 414.07 L166.80 408.50M187.50 422.87 L174.83 414.07M197.32 429.69 L187.50 422.87M208.20 437.24 L197.32 429.69M218.02 444.06 L208.20 437.24M237.68 457.71 L218.02 444.06M248.55 465.26 L237.68 457.71M258.37 472.08 L248.55 465.26M268.20 478.90 L258.37 472.08" fill="none" stroke="#1ec846" stroke-width="0.80" stroke-dasharray="2.9 2.7"/>
<polygon points="42.30,342.09 44.99,337.35 39.61,337.35" fill="#1ec846"/>
<polygon points="65.40,345.44 68.09,340.70 62.71,340.70" fill="#1ec846"/>
<polygon points="95.92,360.21 98.61,355.47 93.24,355.47" fill="#1ec846"/>
<polygon points="126.45,382.81 129.13,378.07 123.76,378.07" fill="#1ec846"/>
<polygon points="144.30,394.57 146.99,389.83 141.62,389.83" fill="#1ec846"/>
<polygon points="156.97,404.41 159.66,399.67 154.29,399.67" fill="#1ec846"/>
<polygon points="166.80,411.47 169.49,406.73 164.11,406.73" fill="#1ec846"/>
<polygon points="174.83,417.04 177.51,412.30 172.14,412.30" fill="#1ec846"/>
<polygon points="187.50,425.84 190.18,421.10 184.81,421.10" fill="#1ec846"/>
<polygon points="197.32,432.66 200.01,427.92 194.64,427.92" fill="#1ec846"/>
<polygon points="208.20,440.21 210.88,435.47 205.51,435.47" fill="#1ec846"/>
<polygon points="218.02,447.03 220.71,442.29 215.34,442.29" fill="#1ec846"/>
<polygon points="237.68,460.68 240.36,455.94 234.99,455.94" fill="#1ec846"/>
<polygon points="248.55,468.23 251.23,463.49 245.86,463.49" fill="#1ec846"/>
<polygon points="258.37,475.05 261.06,470.31 255.69,470.31" fill="#1ec846"/>
<polygon points="268.20,481.87 270.89,477.13 265.51,477.13" fill="#1ec846"/>
<path d="M65.40 343.04 L42.30 339.29M95.92 359.27 L65.40 343.04M126.45 381.83 L95.92 359.27M144.30 393.56 L126.45 381.83M156.97 403.42 L144.30 393.56M166.80 410.50 L156.97 403.42M174.83 416.07 L166.80 410.50M187.50 424.87 L174.83 416.07M197.32 431.69 L187.50 424.87M208.20 439.24 L197.32 431.69M218.02 446.06 L208.20 439.24M237.68 459.71 L218.02 446.06M248.55 467.26 L237.68 459.71M258.37 474.08 L248.55 467.26M268.20 480.90 L258.37 474.08" fill="none" stroke="#c4207c" stroke-width="0.80" stroke-dasharray="2.9 2.7"/>
<polygon points="42.30,336.53 45.06,339.29 42.30,342.06 39.53,339.29" fill="#c4207c"/>
<polygon points="65.40,340.27 68.17,343.04 65.40,345.80 62.64,343.04" fill="#c4207c"/>
<polygon points="95.92,356.50 98.69,359.27 95.92,362.03 93.16,359.27" fill="#c4207c"/>
<polygon points="126.45,379.07 129.21,381.83 126.45,384.60 123.68,381.83" fill="#c4207c"/>
<polygon points="144.30,390.79 147.07,393.56 144.30,396.32 141.54,393.56" fill="#c4207c"/>
<polygon points="156.97,400.65 159.74,403.42 156.97,406.18 154.21,403.42" fill="#c4207c"/>
<polygon points="166.80,407.74 169.56,410.50 166.80,413.26 164.04,410.50" fill="#c4207c"/>
<polygon points="174.83,413.31 177.59,416.07 174.83,418.84 172.06,416.07" fill="#c4207c"/>
<polygon points="187.50,422.11 190.26,424.87 187.50,427.64 184.73,424.87" fill="#c4207c"/>
<polygon points="197.32,428.93 200.09,431.69 197.32,434.46 194.56,431.69" fill="#c4207c"/>
<polygon points="208.20,436.48 210.96,439.24 208.20,442.01 205.43,439.24" fill="#c4207c"/>
<polygon points="218.02,443.30 220.79,446.06 218.02,448.83 215.26,446.06" fill="#c4207c"/>
<polygon points="237.68,456.94 240.44,459.71 237.68,462.47 234.91,459.71" fill="#c4207c"/>
<polygon points="248.55,464.49 251.31,467.26 248.55,470.02 245.78,467.26" fill="#c4207c"/>
<polygon points="258.37,471.31 261.14,474.08 258.37,476.84 255.61,474.08" fill="#c4207c"/>
<polygon points="268.20,478.13 270.97,480.90 268.20,483.66 265.44,480.90" fill="#c4207c"/>
<path d="M65.40 343.71 L42.30 339.50M95.92 361.45 L65.40 343.71M126.45 383.72 L95.92 361.45M144.30 395.41 L126.45 383.72M156.97 405.28 L144.30 395.41M166.80 412.40 L156.97 405.28M174.83 417.97 L166.80 412.40M187.50 426.77 L174.83 417.97M197.32 433.59 L187.50 426.77M208.20 441.14 L197.32 433.59M218.02 447.96 L208.20 441.14M237.68 461.61 L218.02 447.96M248.55 469.16 L237.68 461.61M258.37 475.98 L248.55 469.16M268.20 482.80 L258.37 475.98" fill="none" stroke="#38c4d2" stroke-width="0.80" stroke-dasharray="2.9 2.7"/>
<polygon points="39.33,339.50 44.07,336.81 44.07,342.18" fill="#38c4d2"/>
<polygon points="62.43,343.71 67.17,341.02 67.17,346.40" fill="#38c4d2"/>
<polygon points="92.95,361.45 97.69,358.76 97.69,364.13" fill="#38c4d2"/>
<polygon points="123.48,383.72 128.22,381.04 128.22,386.41" fill="#38c4d2"/>
<polygon points="141.33,395.41 146.07,392.72 146.07,398.09" fill="#38c4d2"/>
<polygon points="154.00,405.28 158.74,402.60 158.74,407.97" fill="#38c4d2"/>
<polygon points="163.83,412.40 168.57,409.71 168.57,415.09" fill="#38c4d2"/>
<polygon points="171.86,417.97 176.60,415.29 176.60,420.66" fill="#38c4d2"/>
<polygon points="184.53,426.77 189.27,424.08 189.27,429.46" fill="#38c4d2"/>
<polygon points="194.35,433.59 199.09,430.91 199.09,436.28" fill="#38c4d2"/>
<polygon points="205.23,441.14 209.97,438.45 209.97,443.83" fill="#38c4d2"/>
<polygon points="215.05,447.96 219.79,445.28 219.79,450.65" fill="#38c4d2"/>
<polygon points="234.71,461.61 239.45,458.92 239.45,464.29" fill="#38c4d2"/>
<polygon points="245.58,469.16 250.32,466.47 250.32,471.84" fill="#38c4d2"/>
<polygon points="255.40,475.98 260.14,473.29 260.14,478.66" fill="#38c4d2"/>
<polygon points="265.23,482.80 269.97,480.11 269.97,485.49" fill="#38c4d2"/>
<path d="M42.30 338.62 L65.40 339.70 L95.92 350.64 L126.45 371.12 L144.30 382.97 L156.97 392.73 L166.80 399.70 L174.83 405.27 L187.50 414.07 L197.32 420.89 L208.20 428.44 L218.02 435.26 L237.68 448.91 L248.55 456.46 L258.37 463.28 L268.20 470.10" fill="none" stroke="#808000" stroke-width="1.00"/>
<polygon points="42.30,336.21 44.78,338.01 43.83,340.93 40.77,340.93 39.82,338.01" fill="#808000"/>
<polygon points="65.40,337.29 67.88,339.09 66.93,342.01 63.87,342.01 62.92,339.09" fill="#808000"/>
<polygon points="95.92,348.23 98.40,350.03 97.46,352.95 94.39,352.95 93.45,350.03" fill="#808000"/>
<polygon points="126.45,368.71 128.93,370.51 127.98,373.43 124.92,373.43 123.97,370.51" fill="#808000"/>
<polygon points="144.30,380.56 146.78,382.36 145.84,385.28 142.77,385.28 141.83,382.36" fill="#808000"/>
<polygon points="156.97,390.32 159.45,392.12 158.51,395.04 155.44,395.04 154.49,392.12" fill="#808000"/>
<polygon points="166.80,397.29 169.28,399.09 168.33,402.01 165.27,402.01 164.32,399.09" fill="#808000"/>
<polygon points="174.83,402.87 177.31,404.67 176.36,407.58 173.30,407.58 172.35,404.67" fill="#808000"/>
<polygon points="187.50,411.66 189.98,413.46 189.03,416.38 185.97,416.38 185.02,413.46" fill="#808000"/>
<polygon points="197.32,418.49 199.80,420.29 198.86,423.20 195.79,423.20 194.85,420.29" fill="#808000"/>
<polygon points="208.20,426.03 210.67,427.83 209.73,430.75 206.66,430.75 205.72,427.83" fill="#808000"/>
<polygon points="218.02,432.86 220.50,434.66 219.55,437.57 216.49,437.57 215.54,434.66" fill="#808000"/>
<polygon points="237.68,446.50 240.15,448.30 239.21,451.22 236.14,451.22 235.20,448.30" fill="#808000"/>
<polygon points="248.55,454.05 251.03,455.85 250.08,458.76 247.01,458.76 246.07,455.85" fill="#808000"/>
<polygon points="258.37,460.87 260.85,462.67 259.91,465.59 256.84,465.59 255.89,462.67" fill="#808000"/>
<polygon points="268.20,467.69 270.68,469.49 269.73,472.41 266.67,472.41 265.72,469.49" fill="#808000"/>
<path d="M42.30 338.00 L65.40 339.80 L95.92 343.80 L126.45 348.90 L144.30 358.30 L156.97 367.68 L166.80 374.50 L174.83 380.07 L187.50 388.87 L197.32 395.69 L208.20 403.24 L218.02 410.06 L237.68 423.71 L248.55 431.26 L258.37 438.08 L268.20 444.90" fill="none" stroke="#000000" stroke-width="1.00"/>
<rect x="40.13" y="335.83" width="4.35" height="4.35" fill="#000000"/>
<rect x="63.23" y="337.63" width="4.35" height="4.35" fill="#000000"/>
<rect x="93.75" y="341.63" width="4.35" height="4.35" fill="#000000"/>
<rect x="124.28" y="346.73" width="4.35" height="4.35" fill="#000000"/>
<rect x="142.13" y="356.13" width="4.35" height="4.35" fill="#000000"/>
<rect x="154.80" y="365.51" width="4.35" height="4.35" fill="#000000"/>
<rect x="164.63" y="372.33" width="4.35" height="4.35" fill="#000000"/>
<rect x="172.66" y="377.90" width="4.35" height="4.35" fill="#000000"/>
<rect x="185.33" y="386.70" width="4.35" height="4.35" fill="#000000"/>
<rect x="195.15" y="393.52" width="4.35" height="4.35" fill="#000000"/>
<rect x="206.02" y="401.07" width="4.35" height="4.35" fill="#000000"/>
<rect x="215.85" y="407.89" width="4.35" height="4.35" fill="#000000"/>
<rect x="235.50" y="421.53" width="4.35" height="4.35" fill="#000000"/>
<rect x="246.37" y="429.08" width="4.35" height="4.35" fill="#000000"/>
<rect x="256.20" y="435.91" width="4.35" height="4.35" fill="#000000"/>
<rect x="266.03" y="442.73" width="4.35" height="4.35" fill="#000000"/>
<path d="M42.30 338.06 L65.40 339.70 L95.92 344.20 L126.45 352.23 L144.30 363.68 L156.97 373.56 L166.80 380.60 L174.83 386.17 L187.50 394.97 L197.32 401.79 L208.20 409.34 L218.02 416.16 L237.68 429.81 L248.55 437.36 L258.37 444.18 L268.20 451.00" fill="none" stroke="#ff0000" stroke-width="1.00"/>
<circle cx="42.30" cy="338.06" r="2.29" fill="#ff0000"/>
<circle cx="65.40" cy="339.70" r="2.29" fill="#ff0000"/>
<circle cx="95.92" cy="344.20" r="2.29" fill="#ff0000"/>
<circle cx="126.45" cy="352.23" r="2.29" fill="#ff0000"/>
<circle cx="144.30" cy="363.68" r="2.29" fill="#ff0000"/>
<circle cx="156.97" cy="373.56" r="2.29" fill="#ff0000"/>
<circle cx="166.80" cy="380.60" r="2.29" fill="#ff0000"/>
<circle cx="174.83" cy="386.17" r="2.29" fill="#ff0000"/>
<circle cx="187.50" cy="394.97" r="2.29" fill="#ff0000"/>
<circle cx="197.32" cy="401.79" r="2.29" fill="#ff0000"/>
<circle cx="208.20" cy="409.34" r="2.29" fill="#ff0000"/>
<circle cx="218.02" cy="416.16" r="2.29" fill="#ff0000"/>
<circle cx="237.68" cy="429.81" r="2.29" fill="#ff0000"/>
<circle cx="248.55" cy="437.36" r="2.29" fill="#ff0000"/>
<circle cx="258.37" cy="444.18" r="2.29" fill="#ff0000"/>
<circle cx="268.20" cy="451.00" r="2.29" fill="#ff0000"/>
<path d="M42.30 338.11 L65.40 339.50 L95.92 344.00 L126.45 354.53 L144.30 366.85 L156.97 376.90 L166.80 384.00 L174.83 389.57 L187.50 398.37 L197.32 405.19 L208.20 412.74 L218.02 419.56 L237.68 433.21 L248.55 440.76 L258.37 447.58 L268.20 454.40" fill="none" stroke="#0000ff" stroke-width="1.00"/>
<polygon points="42.30,335.14 44.99,339.88 39.61,339.88" fill="#0000ff"/>
<polygon points="65.40,336.53 68.09,341.27 62.71,341.27" fill="#0000ff"/>
<polygon points="95.92,341.03 98.61,345.77 93.24,345.77" fill="#0000ff"/>
<polygon points="126.45,351.56 129.13,356.30 123.76,356.30" fill="#0000ff"/>
<polygon points="144.30,363.88 146.99,368.62 141.62,368.62" fill="#0000ff"/>
<polygon points="156.97,373.93 159.66,378.67 154.29,378.67" fill="#0000ff"/>
<polygon points="166.80,381.03 169.49,385.77 164.11,385.77" fill="#0000ff"/>
<polygon points="174.83,386.60 177.51,391.34 172.14,391.34" fill="#0000ff"/>
<polygon points="187.50,395.40 190.18,400.14 184.81,400.14" fill="#0000ff"/>
<polygon points="197.32,402.22 200.01,406.96 194.64,406.96" fill="#0000ff"/>
<polygon points="208.20,409.77 210.88,414.51 205.51,414.51" fill="#0000ff"/>
<polygon points="218.02,416.59 220.71,421.33 215.34,421.33" fill="#0000ff"/>
<polygon points="237.68,430.24 240.36,434.98 234.99,434.98" fill="#0000ff"/>
<polygon points="248.55,437.79 251.23,442.53 245.86,442.53" fill="#0000ff"/>
<polygon points="258.37,444.61 261.06,449.35 255.69,449.35" fill="#0000ff"/>
<polygon points="268.20,451.43 270.89,456.17 265.51,456.17" fill="#0000ff"/>
<path d="M42.30 338.16 L65.40 339.30 L95.92 343.70 L126.45 356.58 L144.30 369.30 L156.97 379.39 L166.80 386.50 L174.83 392.07 L187.50 400.87 L197.32 407.69 L208.20 415.24 L218.02 422.06 L237.68 435.71 L248.55 443.26 L258.37 450.08 L268.20 456.90" fill="none" stroke="#ff00ff" stroke-width="1.00"/>
<polygon points="42.30,341.13 44.99,336.39 39.61,336.39" fill="#ff00ff"/>
<polygon points="65.40,342.27 68.09,337.53 62.71,337.53" fill="#ff00ff"/>
<polygon points="95.92,346.67 98.61,341.93 93.24,341.93" fill="#ff00ff"/>
<polygon points="126.45,359.55 129.13,354.81 123.76,354.81" fill="#ff00ff"/>
<polygon points="144.30,372.27 146.99,367.53 141.62,367.53" fill="#ff00ff"/>
<polygon points="156.97,382.36 159.66,377.62 154.29,377.62" fill="#ff00ff"/>
<polygon points="166.80,389.47 169.49,384.73 164.11,384.73" fill="#ff00ff"/>
<polygon points="174.83,395.04 177.51,390.30 172.14,390.30" fill="#ff00ff"/>
<polygon points="187.50,403.84 190.18,399.10 184.81,399.10" fill="#ff00ff"/>
<polygon points="197.32,410.66 200.01,405.92 194.64,405.92" fill="#ff00ff"/>
<polygon points="208.20,418.21 210.88,413.47 205.51,413.47" fill="#ff00ff"/>
<polygon points="218.02,425.03 220.71,420.29 215.34,420.29" fill="#ff00ff"/>
<polygon points="237.68,438.68 240.36,433.94 234.99,433.94" fill="#ff00ff"/>
<polygon points="248.55,446.23 251.23,441.49 245.86,441.49" fill="#ff00ff"/>
<polygon points="258.37,453.05 261.06,448.31 255.69,448.31" fill="#ff00ff"/>
<polygon points="268.20,459.87 270.89,455.13 265.51,455.13" fill="#ff00ff"/>
<path d="M42.30 338.21 L65.40 339.10 L95.92 343.30 L126.45 358.24 L144.30 370.97 L156.97 381.01 L166.80 388.10 L174.83 393.67 L187.50 402.47 L197.32 409.29 L208.20 416.84 L218.02 423.66 L237.68 437.31 L248.55 444.86 L258.37 451.68 L268.20 458.50" fill="none" stroke="#008000" stroke-width="1.00"/>
<polygon points="42.30,335.45 45.06,338.21 42.30,340.98 39.53,338.21" fill="#008000"/>
<polygon points="65.40,336.34 68.17,339.10 65.40,341.87 62.64,339.10" fill="#008000"/>
<polygon points="95.92,340.54 98.69,343.30 95.92,346.06 93.16,343.30" fill="#008000"/>
<polygon points="126.45,355.47 129.21,358.24 126.45,361.00 123.68,358.24" fill="#008000"/>
<polygon points="144.30,368.20 147.07,370.97 144.30,373.73 141.54,370.97" fill="#008000"/>
<polygon points="156.97,378.24 159.74,381.01 156.97,383.77 154.21,381.01" fill="#008000"/>
<polygon points="166.80,385.34 169.56,388.10 166.80,390.87 164.04,388.10" fill="#008000"/>
<polygon points="174.83,390.91 177.59,393.67 174.83,396.44 172.06,393.67" fill="#008000"/>
<polygon points="187.50,399.71 190.26,402.47 187.50,405.24 184.73,402.47" fill="#008000"/>
<polygon points="197.32,406.53 200.09,409.29 197.32,412.06 194.56,409.29" fill="#008000"/>
<polygon points="208.20,414.08 210.96,416.84 208.20,419.61 205.43,416.84" fill="#008000"/>
<polygon points="218.02,420.90 220.79,423.66 218.02,426.43 215.26,423.66" fill="#008000"/>
<polygon points="237.68,434.54 240.44,437.31 237.68,440.07 234.91,437.31" fill="#008000"/>
<polygon points="248.55,442.09 251.31,444.86 248.55,447.62 245.78,444.86" fill="#008000"/>
<polygon points="258.37,448.91 261.14,451.68 258.37,454.44 255.61,451.68" fill="#008000"/>
<polygon points="268.20,455.74 270.97,458.50 268.20,461.26 265.44,458.50" fill="#008000"/>
<path d="M42.30 338.26 L65.40 338.90 L95.92 342.90 L126.45 359.88 L144.30 372.46 L156.97 382.44 L166.80 389.50 L174.83 395.07 L187.50 403.87 L197.32 410.69 L208.20 418.24 L218.02 425.06 L237.68 438.71 L248.55 446.26 L258.37 453.08 L268.20 459.90" fill="none" stroke="#000080" stroke-width="1.00"/>
<polygon points="39.33,338.26 44.07,335.58 44.07,340.95" fill="#000080"/>
<polygon points="62.43,338.90 67.17,336.21 67.17,341.59" fill="#000080"/>
<polygon points="92.95,342.90 97.69,340.21 97.69,345.59" fill="#000080"/>
<polygon points="123.48,359.88 128.22,357.19 128.22,362.56" fill="#000080"/>
<polygon points="141.33,372.46 146.07,369.78 146.07,375.15" fill="#000080"/>
<polygon points="154.00,382.44 158.74,379.75 158.74,385.12" fill="#000080"/>
<polygon points="163.83,389.50 168.57,386.81 168.57,392.19" fill="#000080"/>
<polygon points="171.86,395.07 176.60,392.39 176.60,397.76" fill="#000080"/>
<polygon points="184.53,403.87 189.27,401.18 189.27,406.56" fill="#000080"/>
<polygon points="194.35,410.69 199.09,408.01 199.09,413.38" fill="#000080"/>
<polygon points="205.23,418.24 209.97,415.55 209.97,420.93" fill="#000080"/>
<polygon points="215.05,425.06 219.79,422.38 219.79,427.75" fill="#000080"/>
<polygon points="234.71,438.71 239.45,436.02 239.45,441.39" fill="#000080"/>
<polygon points="245.58,446.26 250.32,443.57 250.32,448.94" fill="#000080"/>
<polygon points="255.40,453.08 260.14,450.39 260.14,455.76" fill="#000080"/>
<polygon points="265.23,459.90 269.97,457.21 269.97,462.59" fill="#000080"/>
<path d="M42.30 338.32 L65.40 338.70 L95.92 342.50 L126.45 361.53 L144.30 373.87 L156.97 383.77 L166.80 390.80 L174.83 396.37 L187.50 405.17 L197.32 411.99 L208.20 419.54 L218.02 426.36 L237.68 440.01 L248.55 447.56 L258.37 454.38 L268.20 461.20" fill="none" stroke="#8000ff" stroke-width="1.00"/>
<polygon points="45.27,338.32 40.53,335.64 40.53,341.01" fill="#8000ff"/>
<polygon points="68.37,338.70 63.63,336.01 63.63,341.39" fill="#8000ff"/>
<polygon points="98.89,342.50 94.15,339.81 94.15,345.19" fill="#8000ff"/>
<polygon points="129.42,361.53 124.68,358.84 124.68,364.21" fill="#8000ff"/>
<polygon points="147.27,373.87 142.53,371.18 142.53,376.56" fill="#8000ff"/>
<polygon points="159.94,383.77 155.20,381.08 155.20,386.46" fill="#8000ff"/>
<polygon points="169.77,390.80 165.03,388.11 165.03,393.49" fill="#8000ff"/>
<polygon points="177.80,396.37 173.06,393.69 173.06,399.06" fill="#8000ff"/>
<polygon points="190.47,405.17 185.73,402.48 185.73,407.86" fill="#8000ff"/>
<polygon points="200.29,411.99 195.55,409.31 195.55,414.68" fill="#8000ff"/>
<polygon points="211.17,419.54 206.43,416.85 206.43,422.23" fill="#8000ff"/>
<polygon points="220.99,426.36 216.25,423.68 216.25,429.05" fill="#8000ff"/>
<polygon points="240.65,440.01 235.91,437.32 235.91,442.69" fill="#8000ff"/>
<polygon points="251.52,447.56 246.78,444.87 246.78,450.24" fill="#8000ff"/>
<polygon points="261.34,454.38 256.60,451.69 256.60,457.06" fill="#8000ff"/>
<polygon points="271.17,461.20 266.43,458.51 266.43,463.89" fill="#8000ff"/>
<path d="M42.30 338.39 L65.40 338.50 L95.92 342.00 L126.45 363.07 L144.30 375.08 L156.97 384.90 L166.80 391.90 L174.83 397.47 L187.50 406.27 L197.32 413.09 L208.20 420.64 L218.02 427.46 L237.68 441.11 L248.55 448.66 L258.37 455.48 L268.20 462.30" fill="none" stroke="#800080" stroke-width="1.00"/>
<polygon points="44.75,338.39 43.52,340.51 41.08,340.51 39.85,338.39 41.08,336.27 43.52,336.27" fill="#800080"/>
<polygon points="67.85,338.50 66.62,340.62 64.18,340.62 62.95,338.50 64.18,336.38 66.62,336.38" fill="#800080"/>
<polygon points="98.37,342.00 97.15,344.12 94.70,344.12 93.48,342.00 94.70,339.88 97.15,339.88" fill="#800080"/>
<polygon points="128.90,363.07 127.67,365.19 125.22,365.19 124.00,363.07 125.22,360.95 127.67,360.95" fill="#800080"/>
<polygon points="146.75,375.08 145.53,377.20 143.08,377.20 141.86,375.08 143.08,372.96 145.53,372.96" fill="#800080"/>
<polygon points="159.42,384.90 158.20,387.02 155.75,387.02 154.52,384.90 155.75,382.78 158.20,382.78" fill="#800080"/>
<polygon points="169.25,391.90 168.02,394.02 165.58,394.02 164.35,391.90 165.58,389.78 168.02,389.78" fill="#800080"/>
<polygon points="177.28,397.47 176.05,399.60 173.60,399.60 172.38,397.47 173.60,395.35 176.05,395.35" fill="#800080"/>
<polygon points="189.95,406.27 188.72,408.39 186.27,408.39 185.05,406.27 186.27,404.15 188.72,404.15" fill="#800080"/>
<polygon points="199.77,413.09 198.55,415.21 196.10,415.21 194.88,413.09 196.10,410.97 198.55,410.97" fill="#800080"/>
<polygon points="210.64,420.64 209.42,422.76 206.97,422.76 205.75,420.64 206.97,418.52 209.42,418.52" fill="#800080"/>
<polygon points="220.47,427.46 219.25,429.58 216.80,429.58 215.57,427.46 216.80,425.34 219.25,425.34" fill="#800080"/>
<polygon points="240.12,441.11 238.90,443.23 236.45,443.23 235.23,441.11 236.45,438.99 238.90,438.99" fill="#800080"/>
<polygon points="251.00,448.66 249.77,450.78 247.32,450.78 246.10,448.66 247.32,446.53 249.77,446.53" fill="#800080"/>
<polygon points="260.82,455.48 259.60,457.60 257.15,457.60 255.92,455.48 257.15,453.36 259.60,453.36" fill="#800080"/>
<polygon points="270.65,462.30 269.42,464.42 266.98,464.42 265.75,462.30 266.98,460.18 269.42,460.18" fill="#800080"/>
<path d="M42.30 338.48 L65.40 338.80 L95.92 345.60 L126.45 365.73 L144.30 377.55 L156.97 387.32 L166.80 394.30 L174.83 399.87 L187.50 408.67 L197.32 415.49 L208.20 423.04 L218.02 429.86 L237.68 443.51 L248.55 451.06 L258.37 457.88 L268.20 464.70" fill="none" stroke="#800000" stroke-width="1.00"/>
<polygon points="42.30,335.81 43.00,337.82 45.12,337.86 43.43,339.14 44.04,341.17 42.30,339.96 40.56,341.17 41.17,339.14 39.48,337.86 41.60,337.82" fill="#800000"/>
<polygon points="65.40,336.14 66.10,338.14 68.22,338.18 66.53,339.47 67.14,341.50 65.40,340.29 63.66,341.50 64.27,339.47 62.58,338.18 64.70,338.14" fill="#800000"/>
<polygon points="95.92,342.94 96.62,344.94 98.74,344.98 97.05,346.27 97.67,348.30 95.92,347.09 94.18,348.30 94.80,346.27 93.11,344.98 95.23,344.94" fill="#800000"/>
<polygon points="126.45,363.07 127.15,365.07 129.27,365.12 127.58,366.40 128.19,368.43 126.45,367.22 124.71,368.43 125.32,366.40 123.63,365.12 125.75,365.07" fill="#800000"/>
<polygon points="144.30,374.89 145.00,376.89 147.12,376.94 145.43,378.22 146.05,380.25 144.30,379.04 142.56,380.25 143.18,378.22 141.49,376.94 143.61,376.89" fill="#800000"/>
<polygon points="156.97,384.66 157.67,386.67 159.79,386.71 158.10,387.99 158.71,390.02 156.97,388.81 155.23,390.02 155.85,387.99 154.16,386.71 156.28,386.67" fill="#800000"/>
<polygon points="166.80,391.64 167.50,393.64 169.62,393.68 167.93,394.97 168.54,397.00 166.80,395.79 165.06,397.00 165.67,394.97 163.98,393.68 166.10,393.64" fill="#800000"/>
<polygon points="174.83,397.21 175.53,399.22 177.65,399.26 175.96,400.54 176.57,402.57 174.83,401.36 173.09,402.57 173.70,400.54 172.01,399.26 174.13,399.22" fill="#800000"/>
<polygon points="187.50,406.01 188.19,408.01 190.32,408.05 188.62,409.34 189.24,411.37 187.50,410.16 185.76,411.37 186.37,409.34 184.68,408.05 186.80,408.01" fill="#800000"/>
<polygon points="197.32,412.83 198.02,414.83 200.14,414.88 198.45,416.16 199.07,418.19 197.32,416.98 195.58,418.19 196.20,416.16 194.51,414.88 196.63,414.83" fill="#800000"/>
<polygon points="208.20,420.38 208.89,422.38 211.01,422.42 209.32,423.71 209.94,425.74 208.20,424.53 206.45,425.74 207.07,423.71 205.38,422.42 207.50,422.38" fill="#800000"/>
<polygon points="218.02,427.20 218.72,429.20 220.84,429.25 219.15,430.53 219.76,432.56 218.02,431.35 216.28,432.56 216.90,430.53 215.20,429.25 217.33,429.20" fill="#800000"/>
<polygon points="237.68,440.84 238.37,442.85 240.49,442.89 238.80,444.17 239.42,446.20 237.68,444.99 235.93,446.20 236.55,444.17 234.86,442.89 236.98,442.85" fill="#800000"/>
<polygon points="248.55,448.39 249.24,450.40 251.36,450.44 249.67,451.72 250.29,453.75 248.55,452.54 246.81,453.75 247.42,451.72 245.73,450.44 247.85,450.40" fill="#800000"/>
<polygon points="258.37,455.22 259.07,457.22 261.19,457.26 259.50,458.54 260.11,460.57 258.37,459.36 256.63,460.57 257.25,458.54 255.56,457.26 257.68,457.22" fill="#800000"/>
<polygon points="268.20,462.04 268.90,464.04 271.02,464.08 269.33,465.37 269.94,467.40 268.20,466.19 266.46,467.40 267.07,465.37 265.38,464.08 267.50,464.04" fill="#800000"/>
<line x1="42.2" y1="331.0" x2="110.2" y2="336.5" stroke="#ff0000" stroke-width="3.8" stroke-linecap="round"/>
<line x1="144.0" y1="407.2" x2="258.4" y2="485.9" stroke="#ff0000" stroke-width="4.2" stroke-linecap="round" stroke-dasharray="14.5 13.5 0.01 14.2"/>
</g>
<g clip-path="url(#cc)">
<path d="M328.80 200.80 L352.50 232.80 L370.80 259.60 L404.10 298.10 L424.40 309.09" fill="none" stroke="#000000" stroke-width="1.00"/>
<rect x="326.63" y="198.63" width="4.35" height="4.35" fill="#000000"/>
<rect x="350.33" y="230.63" width="4.35" height="4.35" fill="#000000"/>
<rect x="368.63" y="257.43" width="4.35" height="4.35" fill="#000000"/>
<rect x="401.93" y="295.93" width="4.35" height="4.35" fill="#000000"/>
<rect x="422.23" y="306.92" width="4.35" height="4.35" fill="#000000"/>
<path d="M328.80 200.50 L352.50 231.60 L370.80 256.80 L404.10 288.40 L424.40 292.12" fill="none" stroke="#ff0000" stroke-width="1.00"/>
<circle cx="328.80" cy="200.50" r="2.29" fill="#ff0000"/>
<circle cx="352.50" cy="231.60" r="2.29" fill="#ff0000"/>
<circle cx="370.80" cy="256.80" r="2.29" fill="#ff0000"/>
<circle cx="404.10" cy="288.40" r="2.29" fill="#ff0000"/>
<circle cx="424.40" cy="292.12" r="2.29" fill="#ff0000"/>
<path d="M328.80 200.20 L352.50 230.50 L370.80 254.80 L404.10 278.60 L424.40 280.65" fill="none" stroke="#0000ff" stroke-width="1.00"/>
<polygon points="328.80,197.23 331.49,201.97 326.11,201.97" fill="#0000ff"/>
<polygon points="352.50,227.53 355.19,232.27 349.81,232.27" fill="#0000ff"/>
<polygon points="370.80,251.83 373.49,256.57 368.11,256.57" fill="#0000ff"/>
<polygon points="404.10,275.63 406.79,280.37 401.41,280.37" fill="#0000ff"/>
<polygon points="424.40,277.68 427.09,282.42 421.71,282.42" fill="#0000ff"/>
<path d="M328.80 199.90 L352.50 229.30 L370.80 252.30 L404.10 270.60 L424.40 271.16" fill="none" stroke="#ff00ff" stroke-width="1.00"/>
<polygon points="328.80,202.87 331.49,198.13 326.11,198.13" fill="#ff00ff"/>
<polygon points="352.50,232.27 355.19,227.53 349.81,227.53" fill="#ff00ff"/>
<polygon points="370.80,255.27 373.49,250.53 368.11,250.53" fill="#ff00ff"/>
<polygon points="404.10,273.57 406.79,268.83 401.41,268.83" fill="#ff00ff"/>
<polygon points="424.40,274.13 427.09,269.39 421.71,269.39" fill="#ff00ff"/>
<path d="M328.80 199.50 L352.50 228.00 L370.80 248.90 L404.10 264.20 L424.40 263.08" fill="none" stroke="#008000" stroke-width="1.00"/>
<polygon points="328.80,196.74 331.56,199.50 328.80,202.26 326.04,199.50" fill="#008000"/>
<polygon points="352.50,225.24 355.26,228.00 352.50,230.76 349.74,228.00" fill="#008000"/>
<polygon points="370.80,246.14 373.56,248.90 370.80,251.66 368.04,248.90" fill="#008000"/>
<polygon points="404.10,261.44 406.87,264.20 404.10,266.96 401.34,264.20" fill="#008000"/>
<polygon points="424.40,260.32 427.16,263.08 424.40,265.85 421.63,263.08" fill="#008000"/>
<path d="M328.80 199.10 L352.50 226.80 L370.80 246.00 L404.10 257.40 L424.40 257.40" fill="none" stroke="#000080" stroke-width="1.00"/>
<polygon points="325.83,199.10 330.57,196.41 330.57,201.79" fill="#000080"/>
<polygon points="349.53,226.80 354.27,224.11 354.27,229.49" fill="#000080"/>
<polygon points="367.83,246.00 372.57,243.31 372.57,248.69" fill="#000080"/>
<polygon points="401.13,257.40 405.87,254.71 405.87,260.09" fill="#000080"/>
<polygon points="421.43,257.40 426.17,254.71 426.17,260.09" fill="#000080"/>
<path d="M328.80 198.70 L352.50 225.60 L370.80 243.00 L404.10 252.30 L424.40 250.62" fill="none" stroke="#8000ff" stroke-width="1.00"/>
<polygon points="331.77,198.70 327.03,196.01 327.03,201.39" fill="#8000ff"/>
<polygon points="355.47,225.60 350.73,222.91 350.73,228.29" fill="#8000ff"/>
<polygon points="373.77,243.00 369.03,240.31 369.03,245.69" fill="#8000ff"/>
<polygon points="407.07,252.30 402.33,249.61 402.33,254.99" fill="#8000ff"/>
<polygon points="427.37,250.62 422.63,247.94 422.63,253.31" fill="#8000ff"/>
<path d="M328.80 198.30 L352.50 224.60 L370.80 240.40 L404.10 248.10 L424.40 246.42" fill="none" stroke="#800080" stroke-width="1.00"/>
<polygon points="331.25,198.30 330.02,200.42 327.58,200.42 326.35,198.30 327.58,196.18 330.02,196.18" fill="#800080"/>
<polygon points="354.95,224.60 353.72,226.72 351.28,226.72 350.05,224.60 351.28,222.48 353.72,222.48" fill="#800080"/>
<polygon points="373.25,240.40 372.02,242.52 369.58,242.52 368.35,240.40 369.58,238.28 372.02,238.28" fill="#800080"/>
<polygon points="406.55,248.10 405.32,250.22 402.88,250.22 401.65,248.10 402.88,245.98 405.32,245.98" fill="#800080"/>
<polygon points="426.85,246.42 425.62,248.54 423.18,248.54 421.95,246.42 423.18,244.30 425.62,244.30" fill="#800080"/>
<path d="M328.80 197.50 L352.50 222.70 L370.80 236.60 L404.10 240.80 L424.40 240.06" fill="none" stroke="#800000" stroke-width="1.00"/>
<polygon points="328.80,194.84 329.50,196.84 331.62,196.88 329.93,198.17 330.54,200.20 328.80,198.99 327.06,200.20 327.67,198.17 325.98,196.88 328.10,196.84" fill="#800000"/>
<polygon points="352.50,220.04 353.20,222.04 355.32,222.08 353.63,223.37 354.24,225.40 352.50,224.19 350.76,225.40 351.37,223.37 349.68,222.08 351.80,222.04" fill="#800000"/>
<polygon points="370.80,233.94 371.50,235.94 373.62,235.98 371.93,237.27 372.54,239.30 370.80,238.09 369.06,239.30 369.67,237.27 367.98,235.98 370.10,235.94" fill="#800000"/>
<polygon points="404.10,238.14 404.80,240.14 406.92,240.18 405.23,241.47 405.84,243.50 404.10,242.29 402.36,243.50 402.97,241.47 401.28,240.18 403.40,240.14" fill="#800000"/>
<polygon points="424.40,237.39 425.10,239.40 427.22,239.44 425.53,240.72 426.14,242.75 424.40,241.54 422.66,242.75 423.27,240.72 421.58,239.44 423.70,239.40" fill="#800000"/>
<path d="M328.80 193.40 L352.50 212.60 L370.80 218.70 L404.10 217.60 L424.40 217.97" fill="none" stroke="#808000" stroke-width="1.00"/>
<polygon points="328.80,190.99 331.28,192.79 330.33,195.71 327.27,195.71 326.32,192.79" fill="#808000"/>
<polygon points="352.50,210.19 354.98,211.99 354.03,214.91 350.97,214.91 350.02,211.99" fill="#808000"/>
<polygon points="370.80,216.29 373.28,218.09 372.33,221.01 369.27,221.01 368.32,218.09" fill="#808000"/>
<polygon points="404.10,215.19 406.58,216.99 405.63,219.91 402.57,219.91 401.62,216.99" fill="#808000"/>
<polygon points="424.40,215.57 426.88,217.37 425.93,220.28 422.87,220.28 421.92,217.37" fill="#808000"/>
<path d="M352.50 203.30 L328.80 189.10M370.80 204.80 L352.50 203.30M404.10 204.00 L370.80 204.80M424.40 203.63 L404.10 204.00" fill="none" stroke="#2a62a8" stroke-width="0.80" stroke-dasharray="2.9 2.7"/>
<rect x="326.63" y="186.93" width="4.35" height="4.35" fill="#2a62a8"/>
<rect x="350.33" y="201.13" width="4.35" height="4.35" fill="#2a62a8"/>
<rect x="368.63" y="202.63" width="4.35" height="4.35" fill="#2a62a8"/>
<rect x="401.93" y="201.83" width="4.35" height="4.35" fill="#2a62a8"/>
<rect x="422.23" y="201.46" width="4.35" height="4.35" fill="#2a62a8"/>
<path d="M352.50 195.60 L328.80 185.90M370.80 196.10 L352.50 195.60M404.10 194.30 L370.80 196.10M424.40 193.93 L404.10 194.30" fill="none" stroke="#289a9a" stroke-width="0.80" stroke-dasharray="2.9 2.7"/>
<circle cx="328.80" cy="185.90" r="2.29" fill="#289a9a"/>
<circle cx="352.50" cy="195.60" r="2.29" fill="#289a9a"/>
<circle cx="370.80" cy="196.10" r="2.29" fill="#289a9a"/>
<circle cx="404.10" cy="194.30" r="2.29" fill="#289a9a"/>
<circle cx="424.40" cy="193.93" r="2.29" fill="#289a9a"/>
<path d="M352.50 188.80 L328.80 182.10M370.80 188.00 L352.50 188.80M404.10 187.00 L370.80 188.00M424.40 187.00 L404.10 187.00" fill="none" stroke="#a5651e" stroke-width="0.80" stroke-dasharray="2.9 2.7"/>
<polygon points="328.80,179.13 331.49,183.87 326.11,183.87" fill="#a5651e"/>
<polygon points="352.50,185.83 355.19,190.57 349.81,190.57" fill="#a5651e"/>
<polygon points="370.80,185.03 373.49,189.77 368.11,189.77" fill="#a5651e"/>
<polygon points="404.10,184.03 406.79,188.77 401.41,188.77" fill="#a5651e"/>
<polygon points="424.40,184.03 427.09,188.77 421.71,188.77" fill="#a5651e"/>
<path d="M352.50 183.50 L328.80 178.20M370.80 182.60 L352.50 183.50M404.10 181.20 L370.80 182.60M424.40 181.20 L404.10 181.20" fill="none" stroke="#1ec846" stroke-width="0.80" stroke-dasharray="2.9 2.7"/>
<polygon points="328.80,181.17 331.49,176.43 326.11,176.43" fill="#1ec846"/>
<polygon points="352.50,186.47 355.19,181.73 349.81,181.73" fill="#1ec846"/>
<polygon points="370.80,185.57 373.49,180.83 368.11,180.83" fill="#1ec846"/>
<polygon points="404.10,184.17 406.79,179.43 401.41,179.43" fill="#1ec846"/>
<polygon points="424.40,184.17 427.09,179.43 421.71,179.43" fill="#1ec846"/>
<path d="M352.50 178.60 L328.80 174.50M370.80 177.30 L352.50 178.60M404.10 176.90 L370.80 177.30M424.40 176.90 L404.10 176.90" fill="none" stroke="#c4207c" stroke-width="0.80" stroke-dasharray="2.9 2.7"/>
<polygon points="328.80,171.74 331.56,174.50 328.80,177.26 326.04,174.50" fill="#c4207c"/>
<polygon points="352.50,175.84 355.26,178.60 352.50,181.36 349.74,178.60" fill="#c4207c"/>
<polygon points="370.80,174.54 373.56,177.30 370.80,180.06 368.04,177.30" fill="#c4207c"/>
<polygon points="404.10,174.14 406.87,176.90 404.10,179.66 401.34,176.90" fill="#c4207c"/>
<polygon points="424.40,174.14 427.16,176.90 424.40,179.66 421.63,176.90" fill="#c4207c"/>
<path d="M352.50 174.20 L328.80 171.30M370.80 172.80 L352.50 174.20M404.10 172.10 L370.80 172.80M424.40 172.10 L404.10 172.10" fill="none" stroke="#38c4d2" stroke-width="0.80" stroke-dasharray="2.9 2.7"/>
<polygon points="325.83,171.30 330.57,168.61 330.57,173.99" fill="#38c4d2"/>
<polygon points="349.53,174.20 354.27,171.51 354.27,176.89" fill="#38c4d2"/>
<polygon points="367.83,172.80 372.57,170.11 372.57,175.49" fill="#38c4d2"/>
<polygon points="401.13,172.10 405.87,169.41 405.87,174.79" fill="#38c4d2"/>
<polygon points="421.43,172.10 426.17,169.41 426.17,174.79" fill="#38c4d2"/>
<line x1="327.3" y1="212.0" x2="384.6" y2="298.8" stroke="#ff0000" stroke-width="3.9" stroke-linecap="round"/>
</g>
<g clip-path="url(#cd)">
<path d="M328.80 337.60 L352.50 343.40 L370.80 348.00 L404.10 356.90 L424.40 364.20" fill="none" stroke="#000000" stroke-width="1.00"/>
<rect x="326.63" y="335.43" width="4.35" height="4.35" fill="#000000"/>
<rect x="350.33" y="341.23" width="4.35" height="4.35" fill="#000000"/>
<rect x="368.63" y="345.83" width="4.35" height="4.35" fill="#000000"/>
<rect x="401.93" y="354.73" width="4.35" height="4.35" fill="#000000"/>
<rect x="422.23" y="362.03" width="4.35" height="4.35" fill="#000000"/>
<path d="M328.80 338.02 L352.50 344.22 L370.80 349.38 L404.10 359.50 L424.40 367.89" fill="none" stroke="#ff0000" stroke-width="1.00"/>
<circle cx="328.80" cy="338.02" r="2.29" fill="#ff0000"/>
<circle cx="352.50" cy="344.22" r="2.29" fill="#ff0000"/>
<circle cx="370.80" cy="349.38" r="2.29" fill="#ff0000"/>
<circle cx="404.10" cy="359.50" r="2.29" fill="#ff0000"/>
<circle cx="424.40" cy="367.89" r="2.29" fill="#ff0000"/>
<path d="M328.80 338.25 L352.50 344.66 L370.80 350.13 L404.10 360.90 L424.40 369.88" fill="none" stroke="#0000ff" stroke-width="1.00"/>
<polygon points="328.80,335.28 331.49,340.02 326.11,340.02" fill="#0000ff"/>
<polygon points="352.50,341.69 355.19,346.43 349.81,346.43" fill="#0000ff"/>
<polygon points="370.80,347.16 373.49,351.90 368.11,351.90" fill="#0000ff"/>
<polygon points="404.10,357.93 406.79,362.67 401.41,362.67" fill="#0000ff"/>
<polygon points="424.40,366.91 427.09,371.65 421.71,371.65" fill="#0000ff"/>
<path d="M328.80 338.41 L352.50 344.98 L370.80 350.66 L404.10 361.90 L424.40 371.30" fill="none" stroke="#ff00ff" stroke-width="1.00"/>
<polygon points="328.80,341.38 331.49,336.64 326.11,336.64" fill="#ff00ff"/>
<polygon points="352.50,347.95 355.19,343.21 349.81,343.21" fill="#ff00ff"/>
<polygon points="370.80,353.63 373.49,348.89 368.11,348.89" fill="#ff00ff"/>
<polygon points="404.10,364.87 406.79,360.13 401.41,360.13" fill="#ff00ff"/>
<polygon points="424.40,374.27 427.09,369.53 421.71,369.53" fill="#ff00ff"/>
<path d="M328.80 338.54 L352.50 345.23 L370.80 351.09 L404.10 362.70 L424.40 372.43" fill="none" stroke="#008000" stroke-width="1.00"/>
<polygon points="328.80,335.77 331.56,338.54 328.80,341.30 326.04,338.54" fill="#008000"/>
<polygon points="352.50,342.47 355.26,345.23 352.50,348.00 349.74,345.23" fill="#008000"/>
<polygon points="370.80,348.32 373.56,351.09 370.80,353.85 368.04,351.09" fill="#008000"/>
<polygon points="404.10,359.94 406.87,362.70 404.10,365.46 401.34,362.70" fill="#008000"/>
<polygon points="424.40,369.67 427.16,372.43 424.40,375.20 421.63,372.43" fill="#008000"/>
<path d="M328.80 338.67 L352.50 345.49 L370.80 351.52 L404.10 363.50 L424.40 373.57" fill="none" stroke="#000080" stroke-width="1.00"/>
<polygon points="325.83,338.67 330.57,335.98 330.57,341.35" fill="#000080"/>
<polygon points="349.53,345.49 354.27,342.80 354.27,348.17" fill="#000080"/>
<polygon points="367.83,351.52 372.57,348.83 372.57,354.20" fill="#000080"/>
<polygon points="401.13,363.50 405.87,360.81 405.87,366.19" fill="#000080"/>
<polygon points="421.43,373.57 426.17,370.88 426.17,376.25" fill="#000080"/>
<path d="M328.80 338.80 L352.50 345.74 L370.80 351.94 L404.10 364.30 L424.40 374.70" fill="none" stroke="#8000ff" stroke-width="1.00"/>
<polygon points="331.77,338.80 327.03,336.11 327.03,341.48" fill="#8000ff"/>
<polygon points="355.47,345.74 350.73,343.05 350.73,348.43" fill="#8000ff"/>
<polygon points="373.77,351.94 369.03,349.26 369.03,354.63" fill="#8000ff"/>
<polygon points="407.07,364.30 402.33,361.61 402.33,366.99" fill="#8000ff"/>
<polygon points="427.37,374.70 422.63,372.02 422.63,377.39" fill="#8000ff"/>
<path d="M328.80 338.91 L352.50 345.96 L370.80 352.31 L404.10 365.00 L424.40 375.70" fill="none" stroke="#800080" stroke-width="1.00"/>
<polygon points="331.25,338.91 330.02,341.03 327.58,341.03 326.35,338.91 327.58,336.79 330.02,336.79" fill="#800080"/>
<polygon points="354.95,345.96 353.72,348.08 351.28,348.08 350.05,345.96 351.28,343.84 353.72,343.84" fill="#800080"/>
<polygon points="373.25,352.31 372.02,354.44 369.58,354.44 368.35,352.31 369.58,350.19 372.02,350.19" fill="#800080"/>
<polygon points="406.55,365.00 405.32,367.12 402.88,367.12 401.65,365.00 402.88,362.88 405.32,362.88" fill="#800080"/>
<polygon points="426.85,375.70 425.62,377.82 423.18,377.82 421.95,375.70 423.18,373.57 425.62,373.57" fill="#800080"/>
<path d="M328.80 339.09 L352.50 346.31 L370.80 352.90 L404.10 366.10 L424.40 377.26" fill="none" stroke="#800000" stroke-width="1.00"/>
<polygon points="328.80,336.42 329.50,338.43 331.62,338.47 329.93,339.75 330.54,341.78 328.80,340.57 327.06,341.78 327.67,339.75 325.98,338.47 328.10,338.43" fill="#800000"/>
<polygon points="352.50,343.65 353.20,345.65 355.32,345.69 353.63,346.97 354.24,349.01 352.50,347.79 350.76,349.01 351.37,346.97 349.68,345.69 351.80,345.65" fill="#800000"/>
<polygon points="370.80,350.24 371.50,352.24 373.62,352.28 371.93,353.57 372.54,355.60 370.80,354.39 369.06,355.60 369.67,353.57 367.98,352.28 370.10,352.24" fill="#800000"/>
<polygon points="404.10,363.44 404.80,365.44 406.92,365.48 405.23,366.77 405.84,368.80 404.10,367.58 402.36,368.80 402.97,366.77 401.28,365.48 403.40,365.44" fill="#800000"/>
<polygon points="424.40,374.59 425.10,376.60 427.22,376.64 425.53,377.92 426.14,379.95 424.40,378.74 422.66,379.95 423.27,377.92 421.58,376.64 423.70,376.60" fill="#800000"/>
<path d="M328.80 340.07 L352.50 348.24 L370.80 356.15 L404.10 372.20 L424.40 385.91" fill="none" stroke="#808000" stroke-width="1.00"/>
<polygon points="328.80,337.66 331.28,339.47 330.33,342.38 327.27,342.38 326.32,339.47" fill="#808000"/>
<polygon points="352.50,345.83 354.98,347.63 354.03,350.55 350.97,350.55 350.02,347.63" fill="#808000"/>
<polygon points="370.80,353.74 373.28,355.54 372.33,358.46 369.27,358.46 368.32,355.54" fill="#808000"/>
<polygon points="404.10,369.79 406.58,371.59 405.63,374.51 402.57,374.51 401.62,371.59" fill="#808000"/>
<polygon points="424.40,383.51 426.88,385.31 425.93,388.22 422.87,388.22 421.92,385.31" fill="#808000"/>
<path d="M352.50 349.03 L328.80 340.47M370.80 357.48 L352.50 349.03M404.10 374.70 L370.80 357.48M424.40 389.46 L404.10 374.70" fill="none" stroke="#2a62a8" stroke-width="0.80" stroke-dasharray="2.9 2.7"/>
<rect x="326.63" y="338.30" width="4.35" height="4.35" fill="#2a62a8"/>
<rect x="350.33" y="346.85" width="4.35" height="4.35" fill="#2a62a8"/>
<rect x="368.63" y="355.31" width="4.35" height="4.35" fill="#2a62a8"/>
<rect x="401.93" y="372.53" width="4.35" height="4.35" fill="#2a62a8"/>
<rect x="422.23" y="387.29" width="4.35" height="4.35" fill="#2a62a8"/>
<path d="M352.50 349.72 L328.80 340.83M370.80 358.65 L352.50 349.72M404.10 376.90 L370.80 358.65M424.40 392.58 L404.10 376.90" fill="none" stroke="#289a9a" stroke-width="0.80" stroke-dasharray="2.9 2.7"/>
<circle cx="328.80" cy="340.83" r="2.29" fill="#289a9a"/>
<circle cx="352.50" cy="349.72" r="2.29" fill="#289a9a"/>
<circle cx="370.80" cy="358.65" r="2.29" fill="#289a9a"/>
<circle cx="404.10" cy="376.90" r="2.29" fill="#289a9a"/>
<circle cx="424.40" cy="392.58" r="2.29" fill="#289a9a"/>
<path d="M352.50 350.45 L328.80 341.20M370.80 359.88 L352.50 350.45M404.10 379.20 L370.80 359.88M424.40 395.85 L404.10 379.20" fill="none" stroke="#a5651e" stroke-width="0.80" stroke-dasharray="2.9 2.7"/>
<polygon points="328.80,338.23 331.49,342.97 326.11,342.97" fill="#a5651e"/>
<polygon points="352.50,347.48 355.19,352.22 349.81,352.22" fill="#a5651e"/>
<polygon points="370.80,356.91 373.49,361.65 368.11,361.65" fill="#a5651e"/>
<polygon points="404.10,376.23 406.79,380.97 401.41,380.97" fill="#a5651e"/>
<polygon points="424.40,392.88 427.09,397.62 421.71,397.62" fill="#a5651e"/>
<path d="M352.50 351.18 L328.80 341.57M370.80 361.10 L352.50 351.18M404.10 381.50 L370.80 361.10M424.40 399.11 L404.10 381.50" fill="none" stroke="#1ec846" stroke-width="0.80" stroke-dasharray="2.9 2.7"/>
<polygon points="328.80,344.54 331.49,339.80 326.11,339.80" fill="#1ec846"/>
<polygon points="352.50,354.15 355.19,349.41 349.81,349.41" fill="#1ec846"/>
<polygon points="370.80,364.07 373.49,359.33 368.11,359.33" fill="#1ec846"/>
<polygon points="404.10,384.47 406.79,379.73 401.41,379.73" fill="#1ec846"/>
<polygon points="424.40,402.08 427.09,397.34 421.71,397.34" fill="#1ec846"/>
<path d="M352.50 351.87 L328.80 341.93M370.80 362.27 L352.50 351.87M404.10 383.70 L370.80 362.27M424.40 402.24 L404.10 383.70" fill="none" stroke="#c4207c" stroke-width="0.80" stroke-dasharray="2.9 2.7"/>
<polygon points="328.80,339.16 331.56,341.93 328.80,344.69 326.04,341.93" fill="#c4207c"/>
<polygon points="352.50,349.11 355.26,351.87 352.50,354.64 349.74,351.87" fill="#c4207c"/>
<polygon points="370.80,359.51 373.56,362.27 370.80,365.04 368.04,362.27" fill="#c4207c"/>
<polygon points="404.10,380.94 406.87,383.70 404.10,386.46 401.34,383.70" fill="#c4207c"/>
<polygon points="424.40,399.47 427.16,402.24 424.40,405.00 421.63,402.24" fill="#c4207c"/>
<path d="M352.50 352.60 L328.80 342.30M370.80 363.50 L352.50 352.60M404.10 386.00 L370.80 363.50M424.40 405.50 L404.10 386.00" fill="none" stroke="#38c4d2" stroke-width="0.80" stroke-dasharray="2.9 2.7"/>
<polygon points="325.83,342.30 330.57,339.61 330.57,344.99" fill="#38c4d2"/>
<polygon points="349.53,352.60 354.27,349.91 354.27,355.29" fill="#38c4d2"/>
<polygon points="367.83,363.50 372.57,360.81 372.57,366.19" fill="#38c4d2"/>
<polygon points="401.13,386.00 405.87,383.31 405.87,388.69" fill="#38c4d2"/>
<polygon points="421.43,405.50 426.17,402.81 426.17,408.19" fill="#38c4d2"/>
<line x1="330.0" y1="330.6" x2="407.6" y2="348.5" stroke="#ff0000" stroke-width="3.8" stroke-linecap="round"/>
</g>
<g>
<line x1="34.60" y1="159.97" x2="34.60" y2="491.52" stroke="#000" stroke-width="1.05"/>
<line x1="279.70" y1="159.97" x2="279.70" y2="491.52" stroke="#000" stroke-width="1.05"/>
<line x1="34.60" y1="160.50" x2="279.70" y2="160.50" stroke="#000" stroke-width="1.05"/>
<line x1="34.60" y1="325.50" x2="279.70" y2="325.50" stroke="#000" stroke-width="1.05"/>
<line x1="34.60" y1="491.00" x2="279.70" y2="491.00" stroke="#000" stroke-width="1.05"/>
<line x1="314.10" y1="159.97" x2="314.10" y2="491.52" stroke="#000" stroke-width="1.05"/>
<line x1="314.10" y1="160.50" x2="417.00" y2="160.50" stroke="#000" stroke-width="1.05"/>
<line x1="314.10" y1="326.00" x2="417.00" y2="326.00" stroke="#000" stroke-width="1.05"/>
<line x1="314.10" y1="491.00" x2="417.00" y2="491.00" stroke="#000" stroke-width="1.05"/>
<line x1="65.40" y1="160.50" x2="65.40" y2="164.20" stroke="#000" stroke-width="1.00"/>
<line x1="65.40" y1="321.80" x2="65.40" y2="329.20" stroke="#000" stroke-width="1.00"/>
<line x1="65.40" y1="487.30" x2="65.40" y2="491.00" stroke="#000" stroke-width="1.00"/>
<line x1="166.60" y1="160.50" x2="166.60" y2="164.20" stroke="#000" stroke-width="1.00"/>
<line x1="166.60" y1="321.80" x2="166.60" y2="329.20" stroke="#000" stroke-width="1.00"/>
<line x1="166.60" y1="487.30" x2="166.60" y2="491.00" stroke="#000" stroke-width="1.00"/>
<line x1="268.20" y1="160.50" x2="268.20" y2="164.20" stroke="#000" stroke-width="1.00"/>
<line x1="268.20" y1="321.80" x2="268.20" y2="329.20" stroke="#000" stroke-width="1.00"/>
<line x1="268.20" y1="487.30" x2="268.20" y2="491.00" stroke="#000" stroke-width="1.00"/>
<line x1="38.90" y1="160.50" x2="38.90" y2="162.60" stroke="#000" stroke-width="1.00"/>
<line x1="38.90" y1="323.40" x2="38.90" y2="327.60" stroke="#000" stroke-width="1.00"/>
<line x1="38.90" y1="488.90" x2="38.90" y2="491.00" stroke="#000" stroke-width="1.00"/>
<line x1="45.69" y1="160.50" x2="45.69" y2="162.60" stroke="#000" stroke-width="1.00"/>
<line x1="45.69" y1="323.40" x2="45.69" y2="327.60" stroke="#000" stroke-width="1.00"/>
<line x1="45.69" y1="488.90" x2="45.69" y2="491.00" stroke="#000" stroke-width="1.00"/>
<line x1="51.57" y1="160.50" x2="51.57" y2="162.60" stroke="#000" stroke-width="1.00"/>
<line x1="51.57" y1="323.40" x2="51.57" y2="327.60" stroke="#000" stroke-width="1.00"/>
<line x1="51.57" y1="488.90" x2="51.57" y2="491.00" stroke="#000" stroke-width="1.00"/>
<line x1="56.76" y1="160.50" x2="56.76" y2="162.60" stroke="#000" stroke-width="1.00"/>
<line x1="56.76" y1="323.40" x2="56.76" y2="327.60" stroke="#000" stroke-width="1.00"/>
<line x1="56.76" y1="488.90" x2="56.76" y2="491.00" stroke="#000" stroke-width="1.00"/>
<line x1="61.40" y1="160.50" x2="61.40" y2="162.60" stroke="#000" stroke-width="1.00"/>
<line x1="61.40" y1="323.40" x2="61.40" y2="327.60" stroke="#000" stroke-width="1.00"/>
<line x1="61.40" y1="488.90" x2="61.40" y2="491.00" stroke="#000" stroke-width="1.00"/>
<line x1="91.92" y1="160.50" x2="91.92" y2="162.60" stroke="#000" stroke-width="1.00"/>
<line x1="91.92" y1="323.40" x2="91.92" y2="327.60" stroke="#000" stroke-width="1.00"/>
<line x1="91.92" y1="488.90" x2="91.92" y2="491.00" stroke="#000" stroke-width="1.00"/>
<line x1="109.78" y1="160.50" x2="109.78" y2="162.60" stroke="#000" stroke-width="1.00"/>
<line x1="109.78" y1="323.40" x2="109.78" y2="327.60" stroke="#000" stroke-width="1.00"/>
<line x1="109.78" y1="488.90" x2="109.78" y2="491.00" stroke="#000" stroke-width="1.00"/>
<line x1="122.45" y1="160.50" x2="122.45" y2="162.60" stroke="#000" stroke-width="1.00"/>
<line x1="122.45" y1="323.40" x2="122.45" y2="327.60" stroke="#000" stroke-width="1.00"/>
<line x1="122.45" y1="488.90" x2="122.45" y2="491.00" stroke="#000" stroke-width="1.00"/>
<line x1="132.28" y1="160.50" x2="132.28" y2="162.60" stroke="#000" stroke-width="1.00"/>
<line x1="132.28" y1="323.40" x2="132.28" y2="327.60" stroke="#000" stroke-width="1.00"/>
<line x1="132.28" y1="488.90" x2="132.28" y2="491.00" stroke="#000" stroke-width="1.00"/>
<line x1="140.30" y1="160.50" x2="140.30" y2="162.60" stroke="#000" stroke-width="1.00"/>
<line x1="140.30" y1="323.40" x2="140.30" y2="327.60" stroke="#000" stroke-width="1.00"/>
<line x1="140.30" y1="488.90" x2="140.30" y2="491.00" stroke="#000" stroke-width="1.00"/>
<line x1="147.09" y1="160.50" x2="147.09" y2="162.60" stroke="#000" stroke-width="1.00"/>
<line x1="147.09" y1="323.40" x2="147.09" y2="327.60" stroke="#000" stroke-width="1.00"/>
<line x1="147.09" y1="488.90" x2="147.09" y2="491.00" stroke="#000" stroke-width="1.00"/>
<line x1="152.97" y1="160.50" x2="152.97" y2="162.60" stroke="#000" stroke-width="1.00"/>
<line x1="152.97" y1="323.40" x2="152.97" y2="327.60" stroke="#000" stroke-width="1.00"/>
<line x1="152.97" y1="488.90" x2="152.97" y2="491.00" stroke="#000" stroke-width="1.00"/>
<line x1="158.16" y1="160.50" x2="158.16" y2="162.60" stroke="#000" stroke-width="1.00"/>
<line x1="158.16" y1="323.40" x2="158.16" y2="327.60" stroke="#000" stroke-width="1.00"/>
<line x1="158.16" y1="488.90" x2="158.16" y2="491.00" stroke="#000" stroke-width="1.00"/>
<line x1="162.80" y1="160.50" x2="162.80" y2="162.60" stroke="#000" stroke-width="1.00"/>
<line x1="162.80" y1="323.40" x2="162.80" y2="327.60" stroke="#000" stroke-width="1.00"/>
<line x1="162.80" y1="488.90" x2="162.80" y2="491.00" stroke="#000" stroke-width="1.00"/>
<line x1="193.12" y1="160.50" x2="193.12" y2="162.60" stroke="#000" stroke-width="1.00"/>
<line x1="193.12" y1="323.40" x2="193.12" y2="327.60" stroke="#000" stroke-width="1.00"/>
<line x1="193.12" y1="488.90" x2="193.12" y2="491.00" stroke="#000" stroke-width="1.00"/>
<line x1="210.98" y1="160.50" x2="210.98" y2="162.60" stroke="#000" stroke-width="1.00"/>
<line x1="210.98" y1="323.40" x2="210.98" y2="327.60" stroke="#000" stroke-width="1.00"/>
<line x1="210.98" y1="488.90" x2="210.98" y2="491.00" stroke="#000" stroke-width="1.00"/>
<line x1="223.65" y1="160.50" x2="223.65" y2="162.60" stroke="#000" stroke-width="1.00"/>
<line x1="223.65" y1="323.40" x2="223.65" y2="327.60" stroke="#000" stroke-width="1.00"/>
<line x1="223.65" y1="488.90" x2="223.65" y2="491.00" stroke="#000" stroke-width="1.00"/>
<line x1="233.48" y1="160.50" x2="233.48" y2="162.60" stroke="#000" stroke-width="1.00"/>
<line x1="233.48" y1="323.40" x2="233.48" y2="327.60" stroke="#000" stroke-width="1.00"/>
<line x1="233.48" y1="488.90" x2="233.48" y2="491.00" stroke="#000" stroke-width="1.00"/>
<line x1="241.50" y1="160.50" x2="241.50" y2="162.60" stroke="#000" stroke-width="1.00"/>
<line x1="241.50" y1="323.40" x2="241.50" y2="327.60" stroke="#000" stroke-width="1.00"/>
<line x1="241.50" y1="488.90" x2="241.50" y2="491.00" stroke="#000" stroke-width="1.00"/>
<line x1="248.29" y1="160.50" x2="248.29" y2="162.60" stroke="#000" stroke-width="1.00"/>
<line x1="248.29" y1="323.40" x2="248.29" y2="327.60" stroke="#000" stroke-width="1.00"/>
<line x1="248.29" y1="488.90" x2="248.29" y2="491.00" stroke="#000" stroke-width="1.00"/>
<line x1="254.17" y1="160.50" x2="254.17" y2="162.60" stroke="#000" stroke-width="1.00"/>
<line x1="254.17" y1="323.40" x2="254.17" y2="327.60" stroke="#000" stroke-width="1.00"/>
<line x1="254.17" y1="488.90" x2="254.17" y2="491.00" stroke="#000" stroke-width="1.00"/>
<line x1="259.36" y1="160.50" x2="259.36" y2="162.60" stroke="#000" stroke-width="1.00"/>
<line x1="259.36" y1="323.40" x2="259.36" y2="327.60" stroke="#000" stroke-width="1.00"/>
<line x1="259.36" y1="488.90" x2="259.36" y2="491.00" stroke="#000" stroke-width="1.00"/>
<line x1="264.00" y1="160.50" x2="264.00" y2="162.60" stroke="#000" stroke-width="1.00"/>
<line x1="264.00" y1="323.40" x2="264.00" y2="327.60" stroke="#000" stroke-width="1.00"/>
<line x1="264.00" y1="488.90" x2="264.00" y2="491.00" stroke="#000" stroke-width="1.00"/>
<line x1="370.80" y1="160.50" x2="370.80" y2="164.20" stroke="#000" stroke-width="1.00"/>
<line x1="370.80" y1="322.30" x2="370.80" y2="329.70" stroke="#000" stroke-width="1.00"/>
<line x1="370.80" y1="487.30" x2="370.80" y2="491.00" stroke="#000" stroke-width="1.00"/>
<line x1="321.40" y1="160.50" x2="321.40" y2="162.60" stroke="#000" stroke-width="1.00"/>
<line x1="321.40" y1="323.90" x2="321.40" y2="328.10" stroke="#000" stroke-width="1.00"/>
<line x1="321.40" y1="488.90" x2="321.40" y2="491.00" stroke="#000" stroke-width="1.00"/>
<line x1="333.20" y1="160.50" x2="333.20" y2="162.60" stroke="#000" stroke-width="1.00"/>
<line x1="333.20" y1="323.90" x2="333.20" y2="328.10" stroke="#000" stroke-width="1.00"/>
<line x1="333.20" y1="488.90" x2="333.20" y2="491.00" stroke="#000" stroke-width="1.00"/>
<line x1="344.30" y1="160.50" x2="344.30" y2="162.60" stroke="#000" stroke-width="1.00"/>
<line x1="344.30" y1="323.90" x2="344.30" y2="328.10" stroke="#000" stroke-width="1.00"/>
<line x1="344.30" y1="488.90" x2="344.30" y2="491.00" stroke="#000" stroke-width="1.00"/>
<line x1="354.00" y1="160.50" x2="354.00" y2="162.60" stroke="#000" stroke-width="1.00"/>
<line x1="354.00" y1="323.90" x2="354.00" y2="328.10" stroke="#000" stroke-width="1.00"/>
<line x1="354.00" y1="488.90" x2="354.00" y2="491.00" stroke="#000" stroke-width="1.00"/>
<line x1="363.00" y1="160.50" x2="363.00" y2="162.60" stroke="#000" stroke-width="1.00"/>
<line x1="363.00" y1="323.90" x2="363.00" y2="328.10" stroke="#000" stroke-width="1.00"/>
<line x1="363.00" y1="488.90" x2="363.00" y2="491.00" stroke="#000" stroke-width="1.00"/>
<line x1="34.60" y1="188.60" x2="38.30" y2="188.60" stroke="#000" stroke-width="1.00"/>
<line x1="276.00" y1="188.60" x2="279.70" y2="188.60" stroke="#000" stroke-width="1.00"/>
<line x1="34.60" y1="292.29" x2="38.30" y2="292.29" stroke="#000" stroke-width="1.00"/>
<line x1="276.00" y1="292.29" x2="279.70" y2="292.29" stroke="#000" stroke-width="1.00"/>
<line x1="34.60" y1="323.15" x2="36.70" y2="323.15" stroke="#000" stroke-width="1.00"/>
<line x1="277.60" y1="323.15" x2="279.70" y2="323.15" stroke="#000" stroke-width="1.00"/>
<line x1="34.60" y1="312.73" x2="36.70" y2="312.73" stroke="#000" stroke-width="1.00"/>
<line x1="277.60" y1="312.73" x2="279.70" y2="312.73" stroke="#000" stroke-width="1.00"/>
<line x1="34.60" y1="302.44" x2="36.70" y2="302.44" stroke="#000" stroke-width="1.00"/>
<line x1="277.60" y1="302.44" x2="279.70" y2="302.44" stroke="#000" stroke-width="1.00"/>
<line x1="34.60" y1="282.27" x2="36.70" y2="282.27" stroke="#000" stroke-width="1.00"/>
<line x1="277.60" y1="282.27" x2="279.70" y2="282.27" stroke="#000" stroke-width="1.00"/>
<line x1="34.60" y1="272.38" x2="36.70" y2="272.38" stroke="#000" stroke-width="1.00"/>
<line x1="277.60" y1="272.38" x2="279.70" y2="272.38" stroke="#000" stroke-width="1.00"/>
<line x1="34.60" y1="262.61" x2="36.70" y2="262.61" stroke="#000" stroke-width="1.00"/>
<line x1="277.60" y1="262.61" x2="279.70" y2="262.61" stroke="#000" stroke-width="1.00"/>
<line x1="34.60" y1="252.96" x2="36.70" y2="252.96" stroke="#000" stroke-width="1.00"/>
<line x1="277.60" y1="252.96" x2="279.70" y2="252.96" stroke="#000" stroke-width="1.00"/>
<line x1="34.60" y1="243.44" x2="36.70" y2="243.44" stroke="#000" stroke-width="1.00"/>
<line x1="277.60" y1="243.44" x2="279.70" y2="243.44" stroke="#000" stroke-width="1.00"/>
<line x1="34.60" y1="234.02" x2="36.70" y2="234.02" stroke="#000" stroke-width="1.00"/>
<line x1="277.60" y1="234.02" x2="279.70" y2="234.02" stroke="#000" stroke-width="1.00"/>
<line x1="34.60" y1="224.72" x2="36.70" y2="224.72" stroke="#000" stroke-width="1.00"/>
<line x1="277.60" y1="224.72" x2="279.70" y2="224.72" stroke="#000" stroke-width="1.00"/>
<line x1="34.60" y1="215.53" x2="36.70" y2="215.53" stroke="#000" stroke-width="1.00"/>
<line x1="277.60" y1="215.53" x2="279.70" y2="215.53" stroke="#000" stroke-width="1.00"/>
<line x1="34.60" y1="206.45" x2="36.70" y2="206.45" stroke="#000" stroke-width="1.00"/>
<line x1="277.60" y1="206.45" x2="279.70" y2="206.45" stroke="#000" stroke-width="1.00"/>
<line x1="34.60" y1="197.47" x2="36.70" y2="197.47" stroke="#000" stroke-width="1.00"/>
<line x1="277.60" y1="197.47" x2="279.70" y2="197.47" stroke="#000" stroke-width="1.00"/>
<line x1="34.60" y1="179.83" x2="36.70" y2="179.83" stroke="#000" stroke-width="1.00"/>
<line x1="277.60" y1="179.83" x2="279.70" y2="179.83" stroke="#000" stroke-width="1.00"/>
<line x1="34.60" y1="171.15" x2="36.70" y2="171.15" stroke="#000" stroke-width="1.00"/>
<line x1="277.60" y1="171.15" x2="279.70" y2="171.15" stroke="#000" stroke-width="1.00"/>
<line x1="34.60" y1="162.57" x2="36.70" y2="162.57" stroke="#000" stroke-width="1.00"/>
<line x1="277.60" y1="162.57" x2="279.70" y2="162.57" stroke="#000" stroke-width="1.00"/>
<line x1="314.10" y1="218.50" x2="317.80" y2="218.50" stroke="#000" stroke-width="1.00"/>
<line x1="314.10" y1="287.50" x2="317.80" y2="287.50" stroke="#000" stroke-width="1.00"/>
<line x1="314.10" y1="318.50" x2="316.20" y2="318.50" stroke="#000" stroke-width="1.00"/>
<line x1="314.10" y1="310.36" x2="316.20" y2="310.36" stroke="#000" stroke-width="1.00"/>
<line x1="314.10" y1="302.50" x2="316.20" y2="302.50" stroke="#000" stroke-width="1.00"/>
<line x1="314.10" y1="294.88" x2="316.20" y2="294.88" stroke="#000" stroke-width="1.00"/>
<line x1="314.10" y1="280.34" x2="316.20" y2="280.34" stroke="#000" stroke-width="1.00"/>
<line x1="314.10" y1="273.39" x2="316.20" y2="273.39" stroke="#000" stroke-width="1.00"/>
<line x1="314.10" y1="266.63" x2="316.20" y2="266.63" stroke="#000" stroke-width="1.00"/>
<line x1="314.10" y1="260.06" x2="316.20" y2="260.06" stroke="#000" stroke-width="1.00"/>
<line x1="314.10" y1="253.66" x2="316.20" y2="253.66" stroke="#000" stroke-width="1.00"/>
<line x1="314.10" y1="247.43" x2="316.20" y2="247.43" stroke="#000" stroke-width="1.00"/>
<line x1="314.10" y1="241.36" x2="316.20" y2="241.36" stroke="#000" stroke-width="1.00"/>
<line x1="314.10" y1="235.44" x2="316.20" y2="235.44" stroke="#000" stroke-width="1.00"/>
<line x1="314.10" y1="229.66" x2="316.20" y2="229.66" stroke="#000" stroke-width="1.00"/>
<line x1="314.10" y1="224.01" x2="316.20" y2="224.01" stroke="#000" stroke-width="1.00"/>
<line x1="314.10" y1="213.11" x2="316.20" y2="213.11" stroke="#000" stroke-width="1.00"/>
<line x1="314.10" y1="207.84" x2="316.20" y2="207.84" stroke="#000" stroke-width="1.00"/>
<line x1="314.10" y1="202.68" x2="316.20" y2="202.68" stroke="#000" stroke-width="1.00"/>
<line x1="314.10" y1="197.63" x2="316.20" y2="197.63" stroke="#000" stroke-width="1.00"/>
<line x1="314.10" y1="192.68" x2="316.20" y2="192.68" stroke="#000" stroke-width="1.00"/>
<line x1="314.10" y1="187.84" x2="316.20" y2="187.84" stroke="#000" stroke-width="1.00"/>
<line x1="314.10" y1="183.09" x2="316.20" y2="183.09" stroke="#000" stroke-width="1.00"/>
<line x1="314.10" y1="178.43" x2="316.20" y2="178.43" stroke="#000" stroke-width="1.00"/>
<line x1="314.10" y1="173.86" x2="316.20" y2="173.86" stroke="#000" stroke-width="1.00"/>
<line x1="314.10" y1="169.38" x2="316.20" y2="169.38" stroke="#000" stroke-width="1.00"/>
<line x1="34.60" y1="330.90" x2="38.30" y2="330.90" stroke="#000" stroke-width="1.00"/>
<line x1="276.00" y1="330.90" x2="279.70" y2="330.90" stroke="#000" stroke-width="1.00"/>
<line x1="34.60" y1="334.10" x2="36.70" y2="334.10" stroke="#000" stroke-width="1.00"/>
<line x1="277.60" y1="334.10" x2="279.70" y2="334.10" stroke="#000" stroke-width="1.00"/>
<line x1="34.60" y1="400.50" x2="38.30" y2="400.50" stroke="#000" stroke-width="1.00"/>
<line x1="276.00" y1="400.50" x2="279.70" y2="400.50" stroke="#000" stroke-width="1.00"/>
<line x1="34.60" y1="403.70" x2="36.70" y2="403.70" stroke="#000" stroke-width="1.00"/>
<line x1="277.60" y1="403.70" x2="279.70" y2="403.70" stroke="#000" stroke-width="1.00"/>
<line x1="34.60" y1="382.75" x2="36.70" y2="382.75" stroke="#000" stroke-width="1.00"/>
<line x1="277.60" y1="382.75" x2="279.70" y2="382.75" stroke="#000" stroke-width="1.00"/>
<line x1="34.60" y1="370.49" x2="36.70" y2="370.49" stroke="#000" stroke-width="1.00"/>
<line x1="277.60" y1="370.49" x2="279.70" y2="370.49" stroke="#000" stroke-width="1.00"/>
<line x1="34.60" y1="361.80" x2="36.70" y2="361.80" stroke="#000" stroke-width="1.00"/>
<line x1="277.60" y1="361.80" x2="279.70" y2="361.80" stroke="#000" stroke-width="1.00"/>
<line x1="34.60" y1="355.05" x2="36.70" y2="355.05" stroke="#000" stroke-width="1.00"/>
<line x1="277.60" y1="355.05" x2="279.70" y2="355.05" stroke="#000" stroke-width="1.00"/>
<line x1="34.60" y1="349.54" x2="36.70" y2="349.54" stroke="#000" stroke-width="1.00"/>
<line x1="277.60" y1="349.54" x2="279.70" y2="349.54" stroke="#000" stroke-width="1.00"/>
<line x1="34.60" y1="344.88" x2="36.70" y2="344.88" stroke="#000" stroke-width="1.00"/>
<line x1="277.60" y1="344.88" x2="279.70" y2="344.88" stroke="#000" stroke-width="1.00"/>
<line x1="34.60" y1="340.84" x2="36.70" y2="340.84" stroke="#000" stroke-width="1.00"/>
<line x1="277.60" y1="340.84" x2="279.70" y2="340.84" stroke="#000" stroke-width="1.00"/>
<line x1="34.60" y1="337.28" x2="36.70" y2="337.28" stroke="#000" stroke-width="1.00"/>
<line x1="277.60" y1="337.28" x2="279.70" y2="337.28" stroke="#000" stroke-width="1.00"/>
<line x1="34.60" y1="470.10" x2="38.30" y2="470.10" stroke="#000" stroke-width="1.00"/>
<line x1="276.00" y1="470.10" x2="279.70" y2="470.10" stroke="#000" stroke-width="1.00"/>
<line x1="34.60" y1="473.30" x2="36.70" y2="473.30" stroke="#000" stroke-width="1.00"/>
<line x1="277.60" y1="473.30" x2="279.70" y2="473.30" stroke="#000" stroke-width="1.00"/>
<line x1="34.60" y1="452.35" x2="36.70" y2="452.35" stroke="#000" stroke-width="1.00"/>
<line x1="277.60" y1="452.35" x2="279.70" y2="452.35" stroke="#000" stroke-width="1.00"/>
<line x1="34.60" y1="440.09" x2="36.70" y2="440.09" stroke="#000" stroke-width="1.00"/>
<line x1="277.60" y1="440.09" x2="279.70" y2="440.09" stroke="#000" stroke-width="1.00"/>
<line x1="34.60" y1="431.40" x2="36.70" y2="431.40" stroke="#000" stroke-width="1.00"/>
<line x1="277.60" y1="431.40" x2="279.70" y2="431.40" stroke="#000" stroke-width="1.00"/>
<line x1="34.60" y1="424.65" x2="36.70" y2="424.65" stroke="#000" stroke-width="1.00"/>
<line x1="277.60" y1="424.65" x2="279.70" y2="424.65" stroke="#000" stroke-width="1.00"/>
<line x1="34.60" y1="419.14" x2="36.70" y2="419.14" stroke="#000" stroke-width="1.00"/>
<line x1="277.60" y1="419.14" x2="279.70" y2="419.14" stroke="#000" stroke-width="1.00"/>
<line x1="34.60" y1="414.48" x2="36.70" y2="414.48" stroke="#000" stroke-width="1.00"/>
<line x1="277.60" y1="414.48" x2="279.70" y2="414.48" stroke="#000" stroke-width="1.00"/>
<line x1="34.60" y1="410.44" x2="36.70" y2="410.44" stroke="#000" stroke-width="1.00"/>
<line x1="277.60" y1="410.44" x2="279.70" y2="410.44" stroke="#000" stroke-width="1.00"/>
<line x1="34.60" y1="406.88" x2="36.70" y2="406.88" stroke="#000" stroke-width="1.00"/>
<line x1="277.60" y1="406.88" x2="279.70" y2="406.88" stroke="#000" stroke-width="1.00"/>
<line x1="34.60" y1="488.74" x2="36.70" y2="488.74" stroke="#000" stroke-width="1.00"/>
<line x1="277.60" y1="488.74" x2="279.70" y2="488.74" stroke="#000" stroke-width="1.00"/>
<line x1="34.60" y1="484.08" x2="36.70" y2="484.08" stroke="#000" stroke-width="1.00"/>
<line x1="277.60" y1="484.08" x2="279.70" y2="484.08" stroke="#000" stroke-width="1.00"/>
<line x1="34.60" y1="480.04" x2="36.70" y2="480.04" stroke="#000" stroke-width="1.00"/>
<line x1="277.60" y1="480.04" x2="279.70" y2="480.04" stroke="#000" stroke-width="1.00"/>
<line x1="34.60" y1="476.48" x2="36.70" y2="476.48" stroke="#000" stroke-width="1.00"/>
<line x1="277.60" y1="476.48" x2="279.70" y2="476.48" stroke="#000" stroke-width="1.00"/>
<line x1="314.10" y1="392.50" x2="317.80" y2="392.50" stroke="#000" stroke-width="1.00"/>
<line x1="314.10" y1="395.80" x2="316.20" y2="395.80" stroke="#000" stroke-width="1.00"/>
<line x1="314.10" y1="369.91" x2="316.20" y2="369.91" stroke="#000" stroke-width="1.00"/>
<line x1="314.10" y1="354.77" x2="316.20" y2="354.77" stroke="#000" stroke-width="1.00"/>
<line x1="314.10" y1="344.02" x2="316.20" y2="344.02" stroke="#000" stroke-width="1.00"/>
<line x1="314.10" y1="335.69" x2="316.20" y2="335.69" stroke="#000" stroke-width="1.00"/>
<line x1="314.10" y1="328.88" x2="316.20" y2="328.88" stroke="#000" stroke-width="1.00"/>
<line x1="314.10" y1="478.50" x2="317.80" y2="478.50" stroke="#000" stroke-width="1.00"/>
<line x1="314.10" y1="481.80" x2="316.20" y2="481.80" stroke="#000" stroke-width="1.00"/>
<line x1="314.10" y1="455.91" x2="316.20" y2="455.91" stroke="#000" stroke-width="1.00"/>
<line x1="314.10" y1="440.77" x2="316.20" y2="440.77" stroke="#000" stroke-width="1.00"/>
<line x1="314.10" y1="430.02" x2="316.20" y2="430.02" stroke="#000" stroke-width="1.00"/>
<line x1="314.10" y1="421.69" x2="316.20" y2="421.69" stroke="#000" stroke-width="1.00"/>
<line x1="314.10" y1="414.88" x2="316.20" y2="414.88" stroke="#000" stroke-width="1.00"/>
<line x1="314.10" y1="409.12" x2="316.20" y2="409.12" stroke="#000" stroke-width="1.00"/>
<line x1="314.10" y1="404.13" x2="316.20" y2="404.13" stroke="#000" stroke-width="1.00"/>
<line x1="314.10" y1="399.74" x2="316.20" y2="399.74" stroke="#000" stroke-width="1.00"/>
<line x1="314.10" y1="490.13" x2="316.20" y2="490.13" stroke="#000" stroke-width="1.00"/>
<line x1="314.10" y1="485.74" x2="316.20" y2="485.74" stroke="#000" stroke-width="1.00"/>
</g>
<rect x="36.9" y="389.2" width="88.7" height="101.6" fill="#000"/>
<rect x="34.6" y="386.2" width="88.7" height="102.2" fill="#fff"/>
<line x1="34.6" y1="387.15" x2="123.3" y2="387.15" stroke="#a6a6a6" stroke-width="1.9"/>
<line x1="34.60" y1="386.20" x2="34.60" y2="490.40" stroke="#000" stroke-width="1.05"/>
<line x1="39.2" y1="393.4" x2="61.8" y2="393.4" stroke="#000000" stroke-width="0.85"/>
<rect x="47.15" y="390.04" width="6.71" height="6.71" fill="#000000"/>
<path transform="translate(64.70 397.40) scale(0.00503 -0.00503)" d="M763 0H583V1147Q518 1085 412.5 1023T223 930V1104Q374 1175 487 1276T647 1472H763Z" stroke="#000" stroke-width="39.8"/>
<line x1="84.0" y1="393.4" x2="106.9" y2="393.4" stroke="#ff0000" stroke-width="0.85"/>
<circle cx="94.60" cy="393.40" r="3.54" fill="#ff0000"/>
<text x="108.70" y="397.40" font-size="10.30" stroke="#000" stroke-width="0.20">2</text>
<line x1="39.2" y1="405.9" x2="61.8" y2="405.9" stroke="#0000ff" stroke-width="0.85"/>
<polygon points="50.50,401.64 54.65,408.96 46.35,408.96" fill="#0000ff"/>
<text x="64.70" y="409.90" font-size="10.30" stroke="#000" stroke-width="0.20">3</text>
<line x1="84.0" y1="405.9" x2="106.9" y2="405.9" stroke="#ff00ff" stroke-width="0.85"/>
<polygon points="94.60,410.16 98.75,402.84 90.45,402.84" fill="#ff00ff"/>
<text x="108.70" y="409.90" font-size="10.30" stroke="#000" stroke-width="0.20">4</text>
<line x1="39.2" y1="418.3" x2="61.8" y2="418.3" stroke="#008000" stroke-width="0.85"/>
<polygon points="50.50,413.66 55.14,418.30 50.50,422.94 45.86,418.30" fill="#008000"/>
<text x="64.70" y="422.30" font-size="10.30" stroke="#000" stroke-width="0.20">5</text>
<line x1="84.0" y1="418.3" x2="106.9" y2="418.3" stroke="#000080" stroke-width="0.85"/>
<polygon points="90.34,418.30 97.66,414.15 97.66,422.45" fill="#000080"/>
<text x="108.70" y="422.30" font-size="10.30" stroke="#000" stroke-width="0.20">6</text>
<line x1="39.2" y1="430.7" x2="61.8" y2="430.7" stroke="#8000ff" stroke-width="0.85"/>
<polygon points="54.76,430.70 47.44,426.55 47.44,434.85" fill="#8000ff"/>
<text x="64.70" y="434.70" font-size="10.30" stroke="#000" stroke-width="0.20">7</text>
<line x1="84.0" y1="430.7" x2="106.9" y2="430.7" stroke="#800080" stroke-width="0.85"/>
<polygon points="98.38,430.70 96.49,433.98 92.71,433.98 90.82,430.70 92.71,427.42 96.49,427.42" fill="#800080"/>
<text x="108.70" y="434.70" font-size="10.30" stroke="#000" stroke-width="0.20">8</text>
<line x1="39.2" y1="443.0" x2="61.8" y2="443.0" stroke="#800000" stroke-width="0.85"/>
<polygon points="50.50,438.73 51.58,441.82 54.85,441.89 52.24,443.87 53.19,447.00 50.50,445.13 47.81,447.00 48.76,443.87 46.15,441.89 49.42,441.82" fill="#800000"/>
<path transform="translate(64.70 447.00) scale(0.00503 -0.00503)" d="M763 0H583V1147Q518 1085 412.5 1023T223 930V1104Q374 1175 487 1276T647 1472H763Z" stroke="#000" stroke-width="39.8"/><text x="70.43" y="447.00" font-size="10.30" stroke="#000" stroke-width="0.20">0</text>
<line x1="84.0" y1="443.0" x2="106.9" y2="443.0" stroke="#808000" stroke-width="0.85"/>
<polygon points="94.60,439.17 98.43,441.96 96.97,446.46 92.23,446.46 90.77,441.96" fill="#808000"/>
<text x="108.70" y="447.00" font-size="10.30" stroke="#000" stroke-width="0.20">20</text>
<line x1="39.2" y1="455.4" x2="61.8" y2="455.4" stroke="#2a62a8" stroke-width="0.80" stroke-dasharray="2.9 2.7"/>
<rect x="47.15" y="452.04" width="6.71" height="6.71" fill="#2a62a8"/>
<text x="64.70" y="459.40" font-size="10.30" stroke="#000" stroke-width="0.20">30</text>
<line x1="84.0" y1="455.4" x2="106.9" y2="455.4" stroke="#289a9a" stroke-width="0.80" stroke-dasharray="2.9 2.7"/>
<circle cx="94.60" cy="455.40" r="3.54" fill="#289a9a"/>
<text x="108.70" y="459.40" font-size="10.30" stroke="#000" stroke-width="0.20">40</text>
<line x1="39.2" y1="467.8" x2="61.8" y2="467.8" stroke="#a5651e" stroke-width="0.80" stroke-dasharray="2.9 2.7"/>
<polygon points="50.50,463.54 54.65,470.86 46.35,470.86" fill="#a5651e"/>
<text x="64.70" y="471.80" font-size="10.30" stroke="#000" stroke-width="0.20">50</text>
<line x1="84.0" y1="467.8" x2="106.9" y2="467.8" stroke="#1ec846" stroke-width="0.80" stroke-dasharray="2.9 2.7"/>
<polygon points="94.60,472.06 98.75,464.74 90.45,464.74" fill="#1ec846"/>
<text x="108.70" y="471.80" font-size="10.30" stroke="#000" stroke-width="0.20">60</text>
<line x1="39.2" y1="480.1" x2="61.8" y2="480.1" stroke="#c4207c" stroke-width="0.80" stroke-dasharray="2.9 2.7"/>
<polygon points="50.50,475.46 55.14,480.10 50.50,484.74 45.86,480.10" fill="#c4207c"/>
<text x="64.70" y="484.10" font-size="10.30" stroke="#000" stroke-width="0.20">70</text>
<line x1="84.0" y1="480.1" x2="106.9" y2="480.1" stroke="#38c4d2" stroke-width="0.80" stroke-dasharray="2.9 2.7"/>
<polygon points="90.34,480.10 97.66,475.95 97.66,484.25" fill="#38c4d2"/>
<text x="108.70" y="484.10" font-size="10.30" stroke="#000" stroke-width="0.20">80</text>
<text transform="translate(10.23 153.80) scale(1.100 0.980)" font-size="21.00" stroke="#000" stroke-width="0.30">&lt;</text>
<text transform="translate(24.49 154.50) scale(1.120 1.000)" font-size="21.00" stroke="#000" stroke-width="0.22" font-style="italic">m</text>
<text transform="translate(48.40 153.80) scale(1.040 0.980)" font-size="21.00" stroke="#000" stroke-width="0.30">&gt;</text>
<text transform="translate(287.83 153.40) scale(1.100 0.980)" font-size="21.00" stroke="#000" stroke-width="0.30">&lt;</text>
<text transform="translate(301.39 154.10) scale(1.120 1.000)" font-size="21.00" stroke="#000" stroke-width="0.22" font-style="italic">m</text>
<text transform="translate(324.80 153.40) scale(1.040 0.980)" font-size="21.00" stroke="#000" stroke-width="0.30">&gt;</text>
<g transform="translate(52.02 512.40)"><path transform="translate(0.00 0.00) scale(0.00977 -0.00977)" d="M763 0H583V1147Q518 1085 412.5 1023T223 930V1104Q374 1175 487 1276T647 1472H763Z" stroke="#000" stroke-width="22.5"/><text x="11.12" y="0.00" font-size="20.00" stroke="#000" stroke-width="0.22">0</text><path transform="translate(21.74 -10.50) scale(0.00586 -0.00586)" d="M763 0H583V1147Q518 1085 412.5 1023T223 930V1104Q374 1175 487 1276T647 1472H763Z" stroke="#000" stroke-width="22.5"/></g>
<g transform="translate(153.52 512.40)"><path transform="translate(0.00 0.00) scale(0.00977 -0.00977)" d="M763 0H583V1147Q518 1085 412.5 1023T223 930V1104Q374 1175 487 1276T647 1472H763Z" stroke="#000" stroke-width="22.5"/><text x="11.12" y="0.00" font-size="20.00" stroke="#000" stroke-width="0.22">0</text><text x="22.34" y="-10.50" font-size="12.00" stroke="#000" stroke-width="0.13">2</text></g>
<g transform="translate(254.72 512.40)"><path transform="translate(0.00 0.00) scale(0.00977 -0.00977)" d="M763 0H583V1147Q518 1085 412.5 1023T223 930V1104Q374 1175 487 1276T647 1472H763Z" stroke="#000" stroke-width="22.5"/><text x="11.12" y="0.00" font-size="20.00" stroke="#000" stroke-width="0.22">0</text><text x="22.34" y="-10.50" font-size="12.00" stroke="#000" stroke-width="0.13">3</text></g>
<g transform="translate(351.52 512.40)"><path transform="translate(0.00 0.00) scale(0.00977 -0.00977)" d="M763 0H583V1147Q518 1085 412.5 1023T223 930V1104Q374 1175 487 1276T647 1472H763Z" stroke="#000" stroke-width="22.5"/><text x="11.12" y="0.00" font-size="20.00" stroke="#000" stroke-width="0.22">0</text><path transform="translate(22.34 -10.50) scale(0.00586 -0.00586)" d="M763 0H583V1147Q518 1085 412.5 1023T223 930V1104Q374 1175 487 1276T647 1472H763Z" stroke="#000" stroke-width="22.5"/></g>
<text transform="translate(137.0 530.0) skewX(-7)" font-size="21.5" font-style="italic">L</text>
<g transform="translate(26.90 192.00) rotate(-90) translate(-13.90 0)"><text x="0.00" y="0.00" font-size="20.00" stroke="#000" stroke-width="0.22">0.8</text></g>
<g transform="translate(26.90 295.50) rotate(-90) translate(-13.90 0)"><text x="0.00" y="0.00" font-size="20.00" stroke="#000" stroke-width="0.22">0.7</text></g>
<g transform="translate(27.20 348.88) rotate(-90)"><path transform="translate(0.00 0.00) scale(0.00977 -0.00977)" d="M763 0H583V1147Q518 1085 412.5 1023T223 930V1104Q374 1175 487 1276T647 1472H763Z" stroke="#000" stroke-width="22.5"/><text x="11.12" y="0.00" font-size="20.00" stroke="#000" stroke-width="0.22">0</text><text x="21.14" y="-10.60" font-size="12.00" stroke="#000" stroke-width="0.13">0</text></g>
<g transform="translate(27.20 422.18) rotate(-90)"><path transform="translate(0.00 0.00) scale(0.00977 -0.00977)" d="M763 0H583V1147Q518 1085 412.5 1023T223 930V1104Q374 1175 487 1276T647 1472H763Z" stroke="#000" stroke-width="22.5"/><text x="11.12" y="0.00" font-size="20.00" stroke="#000" stroke-width="0.22">0</text><text x="21.14" y="-10.60" font-size="12.00" stroke="#000" stroke-width="0.13">-</text><path transform="translate(25.14 -10.60) scale(0.00586 -0.00586)" d="M763 0H583V1147Q518 1085 412.5 1023T223 930V1104Q374 1175 487 1276T647 1472H763Z" stroke="#000" stroke-width="22.5"/></g>
<g transform="translate(27.20 491.78) rotate(-90)"><path transform="translate(0.00 0.00) scale(0.00977 -0.00977)" d="M763 0H583V1147Q518 1085 412.5 1023T223 930V1104Q374 1175 487 1276T647 1472H763Z" stroke="#000" stroke-width="22.5"/><text x="11.12" y="0.00" font-size="20.00" stroke="#000" stroke-width="0.22">0</text><text x="21.14" y="-10.60" font-size="12.00" stroke="#000" stroke-width="0.13">-2</text></g>
<g transform="translate(306.60 219.00) rotate(-90) translate(-13.90 0)"><text x="0.00" y="0.00" font-size="20.00" stroke="#000" stroke-width="0.22">0.4</text></g>
<g transform="translate(306.60 287.90) rotate(-90) translate(-13.90 0)"><text x="0.00" y="0.00" font-size="20.00" stroke="#000" stroke-width="0.22">0.3</text></g>
<g transform="translate(308.20 407.78) rotate(-90)"><path transform="translate(0.00 0.00) scale(0.00977 -0.00977)" d="M763 0H583V1147Q518 1085 412.5 1023T223 930V1104Q374 1175 487 1276T647 1472H763Z" stroke="#000" stroke-width="22.5"/><text x="11.12" y="0.00" font-size="20.00" stroke="#000" stroke-width="0.22">0</text><text x="21.14" y="-10.60" font-size="12.00" stroke="#000" stroke-width="0.13">-</text><path transform="translate(25.14 -10.60) scale(0.00586 -0.00586)" d="M763 0H583V1147Q518 1085 412.5 1023T223 930V1104Q374 1175 487 1276T647 1472H763Z" stroke="#000" stroke-width="22.5"/></g>
<g transform="translate(308.20 493.78) rotate(-90)"><path transform="translate(0.00 0.00) scale(0.00977 -0.00977)" d="M763 0H583V1147Q518 1085 412.5 1023T223 930V1104Q374 1175 487 1276T647 1472H763Z" stroke="#000" stroke-width="22.5"/><text x="11.12" y="0.00" font-size="20.00" stroke="#000" stroke-width="0.22">0</text><text x="21.14" y="-10.60" font-size="12.00" stroke="#000" stroke-width="0.13">-2</text></g>
<text x="39.91" y="319.00" font-size="14.80">(a) 2D heat</text>
<text x="198.60" y="343.90" font-size="14.80">(b) 2D cool</text>
<text x="320.60" y="318.80" font-size="14.80">(c) 3D heat</text>
<text x="320.80" y="483.80" font-size="14.80">(d) 3D cool</text>
</svg>
</body></html>
